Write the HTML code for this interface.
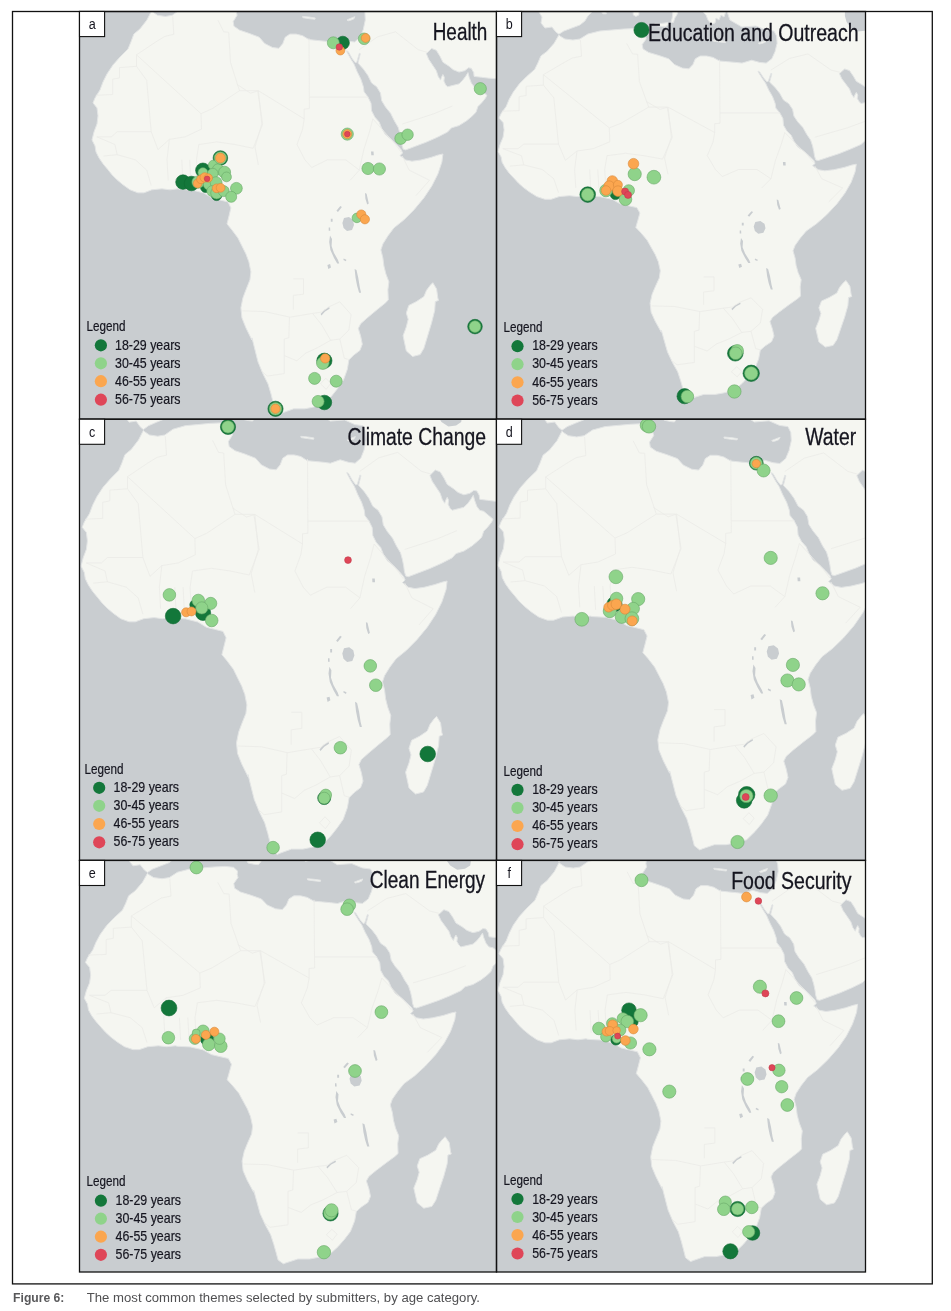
<!DOCTYPE html>
<html><head><meta charset="utf-8"><title>Figure 6</title>
<style>
html,body{margin:0;padding:0;background:#fff;}
body{width:951px;height:1311px;overflow:hidden;font-family:"Liberation Sans",sans-serif;}
svg{display:block}
text{font-family:"Liberation Sans",sans-serif;}
.ttl{font-size:23.5px;fill:#15151f;stroke:#15151f;stroke-width:0.3px;}
.lg{font-size:14.8px;fill:#15151f;stroke:#15151f;stroke-width:0.2px;}
.lab{font-size:14.8px;fill:#15151f;}
</style></head><body>
<svg width="951" height="1311" viewBox="0 0 951 1311">
<rect width="951" height="1311" fill="#fff"/>
<defs>
<clipPath id="cpa"><rect x="79.5" y="11.5" width="417.0" height="407.7"/></clipPath>
<clipPath id="cpb"><rect x="496.5" y="11.5" width="369.0" height="407.7"/></clipPath>
<clipPath id="cpc"><rect x="79.5" y="419.2" width="417.0" height="441.2"/></clipPath>
<clipPath id="cpd"><rect x="496.5" y="419.2" width="369.0" height="441.2"/></clipPath>
<clipPath id="cpe"><rect x="79.5" y="860.4" width="417.0" height="411.6"/></clipPath>
<clipPath id="cpf"><rect x="496.5" y="860.4" width="369.0" height="411.6"/></clipPath>
</defs>
<g clip-path="url(#cpa)">
<rect x="79.5" y="11.5" width="417.0" height="407.7" fill="#c9cdd0"/>
<path d="M146.9 20.0 L139.9 29.0 L133.9 34.0 L130.9 42.0 L128.0 49.0 L120.0 57.0 L113.0 64.9 L107.0 73.9 L103.0 81.9 L100.0 89.9 L95.0 97.9 L93.0 102.9 L97.0 107.9 L98.0 115.9 L97.0 123.9 L94.0 131.9 L92.0 139.9 L95.0 145.9 L96.0 151.9 L99.0 157.9 L103.0 163.8 L108.0 169.8 L112.0 174.8 L117.0 179.8 L123.0 184.8 L130.0 189.8 L137.9 192.8 L143.9 192.8 L151.9 189.8 L161.9 188.8 L169.9 189.8 L177.9 188.8 L180.0 189.4 L192.0 190.0 L204.0 193.0 L212.0 198.0 L220.0 200.0 L228.0 201.9 L230.9 207.9 L229.0 215.9 L227.0 223.9 L231.9 229.9 L237.9 237.9 L241.9 245.9 L245.9 253.9 L248.9 261.9 L250.9 271.9 L249.9 279.9 L245.9 289.9 L242.9 297.9 L240.9 307.8 L241.9 317.8 L245.9 327.8 L251.9 340.0 L252.0 337.9 L255.0 349.9 L258.0 361.9 L263.0 373.9 L268.0 383.9 L271.0 393.9 L273.0 401.9 L275.0 409.9 L280.0 413.9 L282.6 412.8 L293.7 408.8 L304.7 408.8 L312.6 407.3 L323.6 404.1 L331.5 396.2 L337.8 388.3 L343.3 380.4 L347.3 369.4 L348.9 359.9 L353.6 355.2 L359.9 350.5 L362.3 344.2 L360.7 336.3 L358.3 328.4 L360.7 323.7 L367.8 317.4 L377.3 309.5 L385.1 303.2 L388.3 300.0 L387.9 289.8 L388.9 281.8 L385.9 273.9 L383.9 265.9 L382.9 257.9 L380.9 249.9 L382.9 243.9 L387.9 235.9 L393.9 227.9 L403.9 219.9 L413.9 209.9 L423.9 197.9 L431.9 185.9 L437.9 174.0 L441.9 162.0 L442.9 154.0 L438.5 154.9 L430.9 157.4 L420.9 160.0 L412.0 161.2 L405.7 160.0 L400.0 155.6 L402.6 153.0 L401.3 149.9 L396.9 144.8 L391.8 139.8 L385.5 134.7 L381.7 128.4 L379.2 122.1 L374.8 117.1 L371.6 110.8 L371.0 103.2 L367.9 96.9 L364.1 91.8 L363.4 86.8 L360.9 79.2 L357.1 71.6 L354.0 64.1 L350.8 59.0 L347.0 52.1 L346.7 50.8 L348.3 51.7 L352.1 58.4 L355.2 62.6 L356.8 62.2 L359.3 53.3 L360.3 53.7 L358.0 63.1 L363.4 69.1 L367.9 75.4 L371.6 83.0 L376.7 86.8 L380.5 93.1 L381.7 100.7 L385.5 107.0 L390.6 113.3 L394.4 120.9 L398.1 127.2 L400.0 133.5 L401.3 139.8 L401.9 144.8 L403.2 149.2 L405.7 149.9 L415.8 146.1 L425.9 142.3 L437.3 137.3 L447.6 132.0 L451.4 127.9 L459.0 125.6 L466.6 120.8 L472.2 116.1 L476.0 112.3 L477.9 106.6 L481.7 102.8 L485.5 98.1 L486.9 95.3 L483.6 92.4 L477.9 87.7 L474.1 86.8 L471.3 83.0 L469.2 77.3 L468.0 72.6 L465.6 76.4 L462.8 80.1 L459.0 83.9 L453.3 85.3 L447.6 86.8 L445.7 84.9 L443.9 81.1 L444.3 77.3 L442.9 74.5 L441.5 77.3 L440.5 80.1 L438.2 76.4 L436.3 70.7 L432.5 65.0 L428.7 59.3 L426.3 53.6 L431.6 48.4 L436.3 50.3 L440.1 56.5 L442.9 62.2 L448.6 65.9 L453.3 69.7 L459.0 72.1 L464.7 70.7 L468.5 67.8 L471.3 68.3 L473.7 72.6 L474.1 76.4 L481.7 77.3 L489.3 78.2 L510.1 79.7 L520.7 72.8 L520.7 -60.0 L316.2 -60.0 L316.2 -15.7 L319.1 -5.8 L330.9 2.0 L344.6 0.9 L354.4 5.3 L362.2 6.4 L364.9 12.0 L365.3 19.9 L363.3 29.4 L360.1 37.2 L354.6 42.0 L348.3 41.2 L340.4 38.8 L330.9 42.0 L324.6 41.2 L316.8 40.4 L308.9 39.6 L302.6 35.7 L296.2 34.1 L289.9 34.1 L285.2 37.2 L282.8 43.5 L278.9 48.3 L272.6 47.5 L264.7 43.5 L259.2 37.2 L248.9 33.3 L239.5 30.1 L233.9 26.2 L233.2 21.5 L237.1 15.2 L236.3 12.0 L236.8 8.6 L232.9 4.6 L225.0 3.7 L215.3 4.2 L203.5 5.3 L191.8 6.4 L180.0 9.7 L172.2 15.3 L165.4 16.4 L157.5 15.3 L152.6 11.9 L151.7 10.8Z M132.1 -37.9 L132.1 -14.6 L135.0 -9.1 L134.0 -2.4 L138.0 3.1 L144.8 2.0 L148.7 7.5 L151.7 9.9 L156.5 6.4 L164.4 3.1 L172.2 -0.2 L177.1 -4.7 L180.0 -10.2 L183.9 -14.6 L183.9 -37.9Z M193.7 -14.6 L197.6 -14.6 L198.0 -12.6 L194.7 -12.6Z M224.1 -20.2 L229.9 -20.2 L229.9 -11.3 L227.0 -9.8 L224.4 -11.3Z M245.6 -2.0 L252.4 -2.0 L258.3 -2.9 L258.7 -1.1 L256.3 2.0 L252.4 1.5 L246.6 0.2Z M260.3 -24.6 L267.1 -24.6 L268.5 -15.7 L267.1 -11.3 L265.2 -8.0 L263.8 -2.9 L261.4 -3.3 L262.6 -8.0 L263.2 -13.5Z M289.8 -24.6 L316.2 -24.6 L315.2 -15.7 L313.3 -9.1 L310.3 -11.3 L308.4 -5.8 L305.4 -8.0 L304.5 -2.4 L300.6 -1.3 L297.6 -5.8 L295.7 -11.3 L291.7 -15.7Z M302.6 16.4 L308.9 17.0 L315.2 18.0 L314.9 19.3 L308.9 18.6 L302.9 17.7Z M347.0 19.9 L350.7 18.3 L354.9 16.7 L353.8 18.9 L350.7 20.2 L348.0 20.8Z M432.8 282.7 L436.6 289.0 L437.8 297.9 L438.5 300.4 L435.3 301.6 L434.7 310.5 L431.5 323.1 L427.7 335.7 L423.9 348.3 L420.2 354.6 L412.6 356.5 L406.3 350.9 L404.4 342.0 L403.1 335.7 L406.3 326.9 L408.2 319.3 L406.3 313.0 L408.8 305.4 L416.4 301.6 L423.9 296.6 L426.5 290.3 L430.3 285.2Z" fill="#f5f6f1" stroke="#e3e5e5" stroke-width="1" stroke-linejoin="round"/>
<path d="M344.0 217.9 L349.0 216.9 L353.0 219.9 L354.0 224.9 L352.0 229.9 L347.0 230.9 L343.6 227.9 L342.4 222.9Z M330.0 235.5 L332.0 238.9 L331.6 245.9 L334.0 252.9 L338.0 259.9 L339.2 263.5 L337.2 263.5 L334.0 257.9 L330.4 249.9 L329.2 241.9Z M354.6 268.9 L356.5 269.9 L358.3 277.9 L359.9 287.8 L361.1 292.8 L359.1 292.8 L357.1 285.8 L355.6 277.9Z M431.7 -43.7 L431.7 -10.1 L433.4 -3.6 L437.5 2.9 L444.1 7.1 L451.5 6.2 L456.4 2.9 L457.7 -6.4 L457.2 -43.7Z M336.4 210.8 L340.3 206.0 L341.9 207.0 L338.0 212.1Z M365.0 193.1 L366.6 193.7 L368.8 203.4 L367.2 204.4 L365.4 198.8Z M330.8 218.8 L332.6 218.8 L332.6 221.8 L330.8 221.8Z M328.7 227.5 L330.1 227.5 L330.3 230.8 L328.7 230.8Z M327.4 264.9 L330.1 264.1 L331.0 267.4 L328.3 269.0Z M343.7 258.5 L346.4 259.7 L345.9 261.3 L343.4 260.0Z M320.6 314.1 L324.4 309.7 L329.2 307.1 L329.6 308.7 L325.1 311.5 L321.5 315.6Z M371.0 151.6 L373.5 151.6 L373.8 155.2 L371.3 155.2Z" fill="#c9cdd0"/>
<path d="M172.7 16.4 L173.8 34.3 L164.8 36.4 L155.7 42.0 L136.5 54.8 L136.5 66.3 M136.5 66.3 L119.5 67.6 L119.5 77.9 L112.7 79.2 L112.7 94.5 L95.7 95.3 M136.5 54.8 L201.0 113.7 L212.4 108.6 L239.5 90.7 M218.0 20.2 L223.7 31.8 L228.7 32.3 L230.5 62.5 L239.5 90.7 L257.7 90.7 M136.5 66.3 L146.7 80.4 L151.2 131.7 L117.2 131.7 L111.5 136.8 L96.8 136.8 M201.0 113.7 L201.5 129.1 L185.2 136.8 L169.3 139.4 L158.0 149.6 L151.2 131.7 M257.7 90.7 L262.7 124.0 L253.1 148.3 M198.8 144.5 L216.9 141.9 L235.0 144.5 L253.1 148.3 M169.3 139.4 L167.0 159.8 L168.2 180.3 M181.8 159.8 L182.9 182.9 M189.7 159.8 L190.8 180.3 M198.8 144.5 L196.5 159.8 L197.6 180.3 M96.8 136.8 L114.9 144.5 L117.2 154.7 L103.6 156.0 M117.2 154.7 L135.3 159.8 L146.7 170.1 L151.2 185.5 M309.0 38.2 L309.4 108.6 M309.4 97.1 L368.3 97.1 M309.4 108.6 L304.2 109.1 L304.2 118.9 L258.4 90.7 L250.5 93.2 L236.9 84.3 M304.2 118.9 L302.6 129.1 L297.0 144.5 L304.9 159.8 L311.7 167.5 M372.9 118.9 L369.5 131.7 L363.8 149.6 L359.3 170.1 L350.2 180.3 M311.7 167.5 L327.5 159.8 L345.7 159.8 L359.3 170.1 M258.4 90.7 L261.8 124.0 L255.0 147.0 L258.4 165.0 M402.3 156.0 L409.1 170.1 L429.5 180.3 L415.9 195.7 M402.3 124.0 L418.2 118.9 L434.0 113.7 L452.4 106.0 M359.3 49.7 L377.4 36.9 L395.5 31.8 L418.2 49.7 L427.2 52.3 M372.9 118.9 L381.9 129.1 L395.5 144.5 L401.2 152.2 M242.4 310.8 L265.0 311.6 L290.0 317.2 L312.6 313.4 M289.5 317.2 L288.8 337.7 L284.3 339.0 L284.3 373.6 L267.3 376.1 L261.6 371.0 M284.3 355.6 L296.8 360.8 L305.8 353.1 L317.1 347.9 L330.7 340.3 L339.8 339.0 M312.6 313.4 L321.7 324.9 L330.7 340.3 M339.8 301.8 L351.1 314.6 L348.9 330.0 L339.8 339.0 L344.3 358.2 L348.9 359.5 M312.6 313.4 L321.7 312.1 L328.5 307.0 L339.8 301.8 M320.5 383.8 L325.8 378.2 L330.7 383.3 L326.2 389.4 L320.5 383.8 M293.4 278.8 L303.5 278.8 L303.5 294.2 L293.4 295.4 L293.4 309.5" fill="none" stroke="#ebebe7" stroke-width="0.8"/>
<circle cx="183.0" cy="182.1" r="7.3" fill="#13773a" stroke="#0f6a32" stroke-width="0.6"/>
<circle cx="191.5" cy="183.5" r="7.3" fill="#13773a" stroke="#0f6a32" stroke-width="0.6"/>
<circle cx="202.9" cy="170.3" r="7.3" fill="#13773a" stroke="#0f6a32" stroke-width="0.6"/>
<circle cx="220.4" cy="158.0" r="7.3" fill="#13773a" stroke="#0f6a32" stroke-width="0.6"/>
<circle cx="216.6" cy="195.4" r="5.2" fill="#13773a" stroke="#0f6a32" stroke-width="0.6"/>
<circle cx="205.7" cy="187.3" r="5.2" fill="#13773a" stroke="#0f6a32" stroke-width="0.6"/>
<circle cx="342.8" cy="42.8" r="6.6" fill="#13773a" stroke="#0f6a32" stroke-width="0.6"/>
<circle cx="475" cy="326.6" r="7.3" fill="#13773a" stroke="#0f6a32" stroke-width="0.6"/>
<circle cx="324.4" cy="360.7" r="7.6" fill="#13773a" stroke="#0f6a32" stroke-width="0.6"/>
<circle cx="324.4" cy="402.5" r="7.3" fill="#13773a" stroke="#0f6a32" stroke-width="0.6"/>
<circle cx="275.5" cy="408.8" r="7.6" fill="#13773a" stroke="#0f6a32" stroke-width="0.6"/>
<circle cx="213.3" cy="165.1" r="4.9" fill="#8fd38a" stroke="#68a868" stroke-width="0.6"/>
<circle cx="218.0" cy="169.3" r="5.5" fill="#8fd38a" stroke="#68a868" stroke-width="0.6"/>
<circle cx="224.6" cy="172.2" r="6.0" fill="#8fd38a" stroke="#68a868" stroke-width="0.6"/>
<circle cx="226.5" cy="176.9" r="4.9" fill="#8fd38a" stroke="#68a868" stroke-width="0.6"/>
<circle cx="202.9" cy="172.6" r="4.9" fill="#8fd38a" stroke="#68a868" stroke-width="0.6"/>
<circle cx="212.8" cy="173.6" r="5.3" fill="#8fd38a" stroke="#68a868" stroke-width="0.6"/>
<circle cx="198.1" cy="182.1" r="6.2" fill="#8fd38a" stroke="#68a868" stroke-width="0.6"/>
<circle cx="208.5" cy="184.5" r="5.2" fill="#8fd38a" stroke="#68a868" stroke-width="0.6"/>
<circle cx="216.1" cy="182.6" r="5.9" fill="#8fd38a" stroke="#68a868" stroke-width="0.6"/>
<circle cx="212.3" cy="191.1" r="5.5" fill="#8fd38a" stroke="#68a868" stroke-width="0.6"/>
<circle cx="216.6" cy="193.0" r="5.9" fill="#8fd38a" stroke="#68a868" stroke-width="0.6"/>
<circle cx="223.7" cy="191.1" r="5.5" fill="#8fd38a" stroke="#68a868" stroke-width="0.6"/>
<circle cx="236.4" cy="188.3" r="5.9" fill="#8fd38a" stroke="#68a868" stroke-width="0.6"/>
<circle cx="231.2" cy="196.8" r="5.5" fill="#8fd38a" stroke="#68a868" stroke-width="0.6"/>
<circle cx="220.4" cy="158.0" r="6.2" fill="#8fd38a" stroke="#68a868" stroke-width="0.6"/>
<circle cx="333.3" cy="42.8" r="6.0" fill="#8fd38a" stroke="#68a868" stroke-width="0.6"/>
<circle cx="364.1" cy="38.8" r="5.8" fill="#8fd38a" stroke="#68a868" stroke-width="0.6"/>
<circle cx="347.3" cy="134.1" r="6.1" fill="#8fd38a" stroke="#68a868" stroke-width="0.6"/>
<circle cx="400.7" cy="138.5" r="5.9" fill="#8fd38a" stroke="#68a868" stroke-width="0.6"/>
<circle cx="407.6" cy="134.7" r="5.7" fill="#8fd38a" stroke="#68a868" stroke-width="0.6"/>
<circle cx="368" cy="168.5" r="6.1" fill="#8fd38a" stroke="#68a868" stroke-width="0.6"/>
<circle cx="379.4" cy="169" r="6.1" fill="#8fd38a" stroke="#68a868" stroke-width="0.6"/>
<circle cx="480.3" cy="88.7" r="6.1" fill="#8fd38a" stroke="#68a868" stroke-width="0.6"/>
<circle cx="356.9" cy="217.9" r="4.8" fill="#8fd38a" stroke="#68a868" stroke-width="0.6"/>
<circle cx="475" cy="326.6" r="5.8" fill="#8fd38a" stroke="#68a868" stroke-width="0.6"/>
<circle cx="322.8" cy="363.1" r="6.3" fill="#8fd38a" stroke="#68a868" stroke-width="0.6"/>
<circle cx="314.6" cy="378.4" r="6.0" fill="#8fd38a" stroke="#68a868" stroke-width="0.6"/>
<circle cx="336.2" cy="381.2" r="6.0" fill="#8fd38a" stroke="#68a868" stroke-width="0.6"/>
<circle cx="318.1" cy="401.4" r="6.0" fill="#8fd38a" stroke="#68a868" stroke-width="0.6"/>
<circle cx="275.5" cy="408.8" r="6.3" fill="#8fd38a" stroke="#68a868" stroke-width="0.6"/>
<circle cx="220.4" cy="158.0" r="4.9" fill="#fba64f" stroke="#d98a3c" stroke-width="0.6"/>
<circle cx="197.6" cy="183.5" r="4.4" fill="#fba64f" stroke="#d98a3c" stroke-width="0.6"/>
<circle cx="201.0" cy="179.3" r="4.4" fill="#fba64f" stroke="#d98a3c" stroke-width="0.6"/>
<circle cx="204.7" cy="177.4" r="4.7" fill="#fba64f" stroke="#d98a3c" stroke-width="0.6"/>
<circle cx="208.3" cy="178.0" r="4.2" fill="#fba64f" stroke="#d98a3c" stroke-width="0.6"/>
<circle cx="216.6" cy="188.3" r="4.4" fill="#fba64f" stroke="#d98a3c" stroke-width="0.6"/>
<circle cx="220.6" cy="187.8" r="4.4" fill="#fba64f" stroke="#d98a3c" stroke-width="0.6"/>
<circle cx="340.4" cy="50.6" r="4.4" fill="#fba64f" stroke="#d98a3c" stroke-width="0.6"/>
<circle cx="365.6" cy="38.0" r="4.4" fill="#fba64f" stroke="#d98a3c" stroke-width="0.6"/>
<circle cx="347.3" cy="134.1" r="4.5" fill="#fba64f" stroke="#d98a3c" stroke-width="0.6"/>
<circle cx="361.3" cy="214.5" r="4.6" fill="#fba64f" stroke="#d98a3c" stroke-width="0.6"/>
<circle cx="364.9" cy="219.3" r="4.6" fill="#fba64f" stroke="#d98a3c" stroke-width="0.6"/>
<circle cx="325.2" cy="358.4" r="4.7" fill="#fba64f" stroke="#d98a3c" stroke-width="0.6"/>
<circle cx="275.5" cy="408.8" r="4.7" fill="#fba64f" stroke="#d98a3c" stroke-width="0.6"/>
<circle cx="207.1" cy="178.8" r="2.8" fill="#df4658" stroke="#c23a4a" stroke-width="0.6"/>
<circle cx="339.3" cy="47.0" r="3.2" fill="#df4658" stroke="#c23a4a" stroke-width="0.6"/>
<circle cx="347.3" cy="134.1" r="2.8" fill="#df4658" stroke="#c23a4a" stroke-width="0.6"/>
</g>
<g clip-path="url(#cpb)">
<rect x="496.5" y="11.5" width="369.0" height="407.7" fill="#c9cdd0"/>
<path d="M554.1 43.3 L547.0 51.4 L540.9 55.9 L537.8 63.1 L534.7 69.4 L526.6 76.6 L519.4 83.8 L513.3 92.0 L509.2 99.2 L506.2 106.4 L501.1 113.6 L499.0 118.1 L503.1 122.6 L504.1 129.9 L503.1 137.1 L500.1 144.3 L498.0 151.5 L501.1 156.9 L502.1 162.3 L505.2 167.7 L509.2 173.2 L514.3 178.6 L518.4 183.1 L523.5 187.6 L529.6 192.1 L536.8 196.6 L544.9 199.3 L551.1 199.3 L559.2 196.6 L569.4 195.7 L577.6 196.6 L585.7 195.7 L587.9 196.2 L600.1 196.7 L612.4 199.4 L620.5 204.0 L628.7 205.8 L636.8 207.6 L639.9 213.0 L637.9 220.2 L635.8 227.4 L640.9 232.8 L647.0 240.0 L651.1 247.3 L655.2 254.5 L658.3 261.7 L660.3 270.7 L659.3 277.9 L655.2 286.9 L652.1 294.2 L650.1 303.2 L651.1 312.2 L655.2 321.2 L661.3 332.2 L661.4 330.4 L664.4 341.2 L667.5 352.0 L672.6 362.8 L677.7 371.8 L680.7 380.9 L682.8 388.1 L684.8 395.3 L689.9 398.9 L692.7 397.9 L703.9 394.4 L715.2 394.4 L723.3 393.0 L734.5 390.1 L742.6 383.0 L749.0 375.9 L754.7 368.7 L758.7 358.8 L760.3 350.2 L765.1 346.0 L771.6 341.7 L774.0 336.0 L772.4 328.9 L770.0 321.7 L772.4 317.5 L779.6 311.8 L789.3 304.6 L797.3 298.9 L800.6 296.1 L800.2 286.9 L801.2 279.7 L798.1 272.5 L796.1 265.3 L795.1 258.1 L793.0 250.8 L795.1 245.4 L800.2 238.2 L806.3 231.0 L816.5 223.8 L826.7 214.8 L836.9 203.9 L845.0 193.1 L851.2 182.3 L855.2 171.5 L856.3 164.2 L851.8 165.1 L844.1 167.4 L833.8 169.7 L824.8 170.8 L818.3 169.7 L812.5 165.7 L815.1 163.4 L813.8 160.5 L809.3 156.0 L804.2 151.4 L797.7 146.9 L793.9 141.2 L791.3 135.5 L786.8 130.9 L783.5 125.2 L782.9 118.4 L779.7 112.7 L775.8 108.1 L775.2 103.6 L772.6 96.7 L768.7 89.9 L765.5 83.1 L762.3 78.5 L758.4 72.2 L758.0 71.1 L759.7 71.9 L763.6 77.9 L766.8 81.7 L768.3 81.3 L770.9 73.4 L771.9 73.7 L769.6 82.1 L775.2 87.6 L779.7 93.3 L783.5 100.1 L788.7 103.6 L792.6 109.3 L793.9 116.1 L797.7 121.8 L802.9 127.5 L806.7 134.3 L810.6 140.0 L812.5 145.7 L813.8 151.4 L814.5 156.0 L815.8 160.0 L818.3 160.5 L828.6 157.1 L838.9 153.7 L850.5 149.1 L861.1 144.4 L865.0 140.7 L872.7 138.6 L880.5 134.3 L886.3 130.0 L890.1 126.6 L892.1 121.5 L895.9 118.1 L899.8 113.8 L901.2 111.2 L897.9 108.7 L892.1 104.4 L888.2 103.5 L885.3 100.1 L883.2 95.0 L881.9 90.7 L879.5 94.1 L876.6 97.6 L872.7 101.0 L866.9 102.3 L861.1 103.5 L859.2 101.8 L857.3 98.4 L857.8 95.0 L856.3 92.4 L854.9 95.0 L853.9 97.6 L851.5 94.1 L849.5 89.0 L845.7 83.9 L841.8 78.8 L839.4 73.6 L844.7 68.9 L849.5 70.6 L853.4 76.2 L856.3 81.3 L862.1 84.7 L866.9 88.2 L872.7 90.3 L878.5 89.0 L882.4 86.5 L885.3 86.9 L887.7 90.7 L888.2 94.1 L895.9 95.0 L903.7 95.9 L924.9 97.1 L935.7 90.9 L935.7 -29.0 L726.9 -29.0 L726.9 11.0 L729.9 20.0 L741.9 27.0 L755.9 26.0 L765.9 30.0 L773.9 31.0 L776.6 36.0 L777.1 43.2 L775.0 51.7 L771.8 58.8 L766.2 63.1 L759.7 62.4 L751.7 60.2 L742.0 63.1 L735.6 62.4 L727.5 61.7 L719.5 61.0 L713.0 57.4 L706.6 56.0 L700.1 56.0 L695.3 58.8 L692.9 64.5 L688.9 68.8 L682.4 68.1 L674.4 64.5 L668.7 58.8 L658.3 55.3 L648.6 52.4 L643.0 48.9 L642.2 44.6 L646.2 38.9 L645.4 36.0 L645.9 33.0 L641.9 29.4 L633.9 28.6 L623.9 29.0 L611.9 30.0 L599.9 31.0 L587.9 34.0 L579.9 39.0 L572.9 40.0 L564.9 39.0 L559.9 36.0 L558.9 35.0Z M539.0 -9.0 L539.0 12.0 L542.0 17.0 L541.0 23.0 L545.0 28.0 L551.9 27.0 L555.9 32.0 L558.9 34.2 L563.9 31.0 L571.9 28.0 L579.9 25.0 L584.9 21.0 L587.9 16.0 L591.9 12.0 L591.9 -9.0Z M601.9 12.0 L605.9 12.0 L606.3 13.8 L602.9 13.8Z M632.9 7.0 L638.9 7.0 L638.9 15.0 L635.9 16.4 L633.3 15.0Z M654.8 23.4 L661.8 23.4 L667.8 22.6 L668.2 24.2 L665.8 27.0 L661.8 26.6 L655.8 25.4Z M669.8 3.0 L676.8 3.0 L678.2 11.0 L676.8 15.0 L674.8 18.0 L673.4 22.6 L671.0 22.2 L672.2 18.0 L672.8 13.0Z M700.0 3.0 L726.9 3.0 L726.0 11.0 L724.0 17.0 L721.0 15.0 L719.0 20.0 L716.0 18.0 L715.0 23.0 L711.0 24.0 L708.0 20.0 L706.0 15.0 L702.0 11.0Z M713.0 40.0 L719.5 40.6 L725.9 41.4 L725.6 42.6 L719.5 42.0 L713.3 41.2Z M758.4 43.2 L762.1 41.7 L766.5 40.3 L765.3 42.3 L762.1 43.4 L759.4 44.0Z M846.0 280.5 L849.9 286.2 L851.1 294.2 L851.8 296.5 L848.5 297.5 L847.9 305.6 L844.7 317.0 L840.8 328.3 L836.9 339.7 L833.1 345.4 L825.4 347.1 L818.9 342.1 L817.0 334.0 L815.7 328.3 L818.9 320.4 L820.9 313.5 L818.9 307.8 L821.5 301.0 L829.2 297.5 L836.9 293.0 L839.6 287.3 L843.4 282.7Z" fill="#f5f6f1" stroke="#e3e5e5" stroke-width="1" stroke-linejoin="round"/>
<path d="M755.3 222.0 L760.4 221.1 L764.5 223.8 L765.5 228.3 L763.4 232.8 L758.3 233.7 L754.9 231.0 L753.7 226.5Z M741.0 237.9 L743.0 240.9 L742.6 247.2 L745.1 253.5 L749.2 259.9 L750.4 263.1 L748.3 263.1 L745.1 258.1 L741.4 250.8 L740.2 243.6Z M766.1 268.0 L768.1 268.9 L770.0 276.1 L771.6 285.1 L772.8 289.6 L770.8 289.6 L768.7 283.3 L767.1 276.1Z M844.9 -14.2 L844.9 16.0 L846.6 21.9 L850.8 27.8 L857.5 31.6 L865.1 30.8 L870.1 27.8 L871.4 19.4 L870.9 -14.2Z M747.6 215.6 L751.5 211.2 L753.1 212.1 L749.2 216.7Z M776.7 199.6 L778.3 200.1 L780.7 208.9 L779.0 209.8 L777.2 204.7Z M741.8 222.7 L743.7 222.7 L743.7 225.5 L741.8 225.5Z M739.7 230.6 L741.1 230.6 L741.3 233.6 L739.7 233.6Z M738.3 264.4 L741.1 263.7 L742.0 266.7 L739.3 268.1Z M755.0 258.6 L757.8 259.8 L757.3 261.1 L754.8 260.0Z M731.4 308.8 L735.3 304.9 L740.2 302.5 L740.6 303.9 L736.0 306.5 L732.3 310.2Z M782.9 162.1 L785.5 162.1 L785.7 165.4 L783.2 165.4Z" fill="#c9cdd0"/>
<path d="M580.4 40.0 L581.6 56.2 L572.3 58.0 L563.1 63.1 L543.4 74.7 L543.4 85.1 M543.4 85.1 L526.1 86.3 L526.1 95.5 L519.1 96.7 L519.1 110.6 L501.8 111.2 M543.4 74.7 L609.3 127.9 L620.9 123.3 L648.7 107.1 M626.7 43.5 L632.5 53.9 L637.6 54.3 L639.4 81.6 L648.7 107.1 L667.2 107.1 M543.4 85.1 L553.8 97.8 L558.5 144.1 L523.8 144.1 L518.0 148.7 L502.9 148.7 M609.3 127.9 L609.8 141.8 L593.2 148.7 L577.0 151.0 L565.4 160.3 L558.5 144.1 M667.2 107.1 L672.3 137.2 L662.6 159.1 M607.0 155.7 L625.5 153.3 L644.0 155.7 L662.6 159.1 M577.0 151.0 L574.6 169.5 L575.8 188.0 M589.7 169.5 L590.8 190.4 M597.8 169.5 L598.9 188.0 M607.0 155.7 L604.7 169.5 L605.9 188.0 M502.9 148.7 L521.4 155.7 L523.8 164.9 L509.9 166.1 M523.8 164.9 L542.3 169.5 L553.8 178.8 L558.5 192.7 M719.6 59.7 L720.0 123.3 M720.0 112.9 L780.2 112.9 M720.0 123.3 L714.7 123.7 L714.7 132.5 L668.0 107.1 L659.9 109.4 L646.0 101.3 M714.7 132.5 L713.1 141.8 L707.3 155.7 L715.4 169.5 L722.3 176.5 M784.8 132.5 L781.3 144.1 L775.5 160.3 L770.9 178.8 L761.7 188.0 M722.3 176.5 L738.5 169.5 L757.0 169.5 L770.9 178.8 M668.0 107.1 L671.4 137.2 L664.5 158.0 L668.0 174.2 M814.9 166.1 L821.8 178.8 L842.6 188.0 L828.7 201.9 M814.9 137.2 L831.1 132.5 L847.2 127.9 L866.0 121.0 M770.9 70.1 L789.4 58.5 L807.9 53.9 L831.1 70.1 L840.3 72.4 M784.8 132.5 L794.0 141.8 L807.9 155.7 L813.7 162.6 M651.6 305.9 L674.7 306.5 L700.1 311.6 L723.3 308.2 M699.7 311.6 L699.0 330.1 L694.4 331.3 L694.4 362.5 L677.0 364.8 L671.2 360.2 M694.4 346.3 L707.1 351.0 L716.3 344.0 L727.9 339.4 L741.8 332.5 L751.0 331.3 M723.3 308.2 L732.5 318.6 L741.8 332.5 M751.0 297.8 L762.6 309.3 L760.3 323.2 L751.0 331.3 L755.7 348.6 L760.3 349.8 M723.3 308.2 L732.5 307.0 L739.5 302.4 L751.0 297.8 M731.4 371.8 L736.7 366.7 L741.8 371.3 L737.2 376.9 L731.4 371.8 M703.6 276.9 L714.0 276.9 L714.0 290.8 L703.6 292.0 L703.6 304.7" fill="none" stroke="#ebebe7" stroke-width="0.8"/>
<circle cx="587.7" cy="194.6" r="7.8" fill="#13773a" stroke="#0f6a32" stroke-width="0.6"/>
<circle cx="615.4" cy="194.3" r="5.3" fill="#13773a" stroke="#0f6a32" stroke-width="0.6"/>
<circle cx="641.5" cy="30" r="7.6" fill="#13773a" stroke="#0f6a32" stroke-width="0.6"/>
<circle cx="735.3" cy="353.3" r="7.8" fill="#13773a" stroke="#0f6a32" stroke-width="0.6"/>
<circle cx="751.2" cy="373.3" r="8.2" fill="#13773a" stroke="#0f6a32" stroke-width="0.6"/>
<circle cx="684.6" cy="396.2" r="7.6" fill="#13773a" stroke="#0f6a32" stroke-width="0.6"/>
<circle cx="587.7" cy="194.6" r="6.3" fill="#8fd38a" stroke="#68a868" stroke-width="0.6"/>
<circle cx="634.7" cy="174.1" r="6.6" fill="#8fd38a" stroke="#68a868" stroke-width="0.6"/>
<circle cx="653.9" cy="177.2" r="6.9" fill="#8fd38a" stroke="#68a868" stroke-width="0.6"/>
<circle cx="606.0" cy="190.5" r="6.3" fill="#8fd38a" stroke="#68a868" stroke-width="0.6"/>
<circle cx="628.7" cy="190.5" r="5.8" fill="#8fd38a" stroke="#68a868" stroke-width="0.6"/>
<circle cx="625.5" cy="199.3" r="6.3" fill="#8fd38a" stroke="#68a868" stroke-width="0.6"/>
<circle cx="737.2" cy="350.8" r="6.3" fill="#8fd38a" stroke="#68a868" stroke-width="0.6"/>
<circle cx="735.7" cy="353.3" r="6.3" fill="#8fd38a" stroke="#68a868" stroke-width="0.6"/>
<circle cx="751.2" cy="373.3" r="6.6" fill="#8fd38a" stroke="#68a868" stroke-width="0.6"/>
<circle cx="734.4" cy="391.5" r="6.7" fill="#8fd38a" stroke="#68a868" stroke-width="0.6"/>
<circle cx="687.4" cy="396.5" r="6.3" fill="#8fd38a" stroke="#68a868" stroke-width="0.6"/>
<circle cx="633.5" cy="163.7" r="5.3" fill="#fba64f" stroke="#d98a3c" stroke-width="0.6"/>
<circle cx="612.3" cy="181.0" r="5.3" fill="#fba64f" stroke="#d98a3c" stroke-width="0.6"/>
<circle cx="609.1" cy="186.1" r="5.3" fill="#fba64f" stroke="#d98a3c" stroke-width="0.6"/>
<circle cx="617.9" cy="184.8" r="4.5" fill="#fba64f" stroke="#d98a3c" stroke-width="0.6"/>
<circle cx="606.0" cy="190.5" r="4.8" fill="#fba64f" stroke="#d98a3c" stroke-width="0.6"/>
<circle cx="617.9" cy="191.1" r="5.3" fill="#fba64f" stroke="#d98a3c" stroke-width="0.6"/>
<circle cx="625.1" cy="191.5" r="3.5" fill="#df4658" stroke="#c23a4a" stroke-width="0.6"/>
<circle cx="628.0" cy="194.9" r="3.5" fill="#df4658" stroke="#c23a4a" stroke-width="0.6"/>
</g>
<g clip-path="url(#cpc)">
<rect x="79.5" y="419.2" width="417.0" height="441.2" fill="#c9cdd0"/>
<path d="M138.5 440.0 L131.2 449.5 L124.9 454.7 L121.8 463.2 L118.7 470.5 L110.3 478.9 L103.0 487.3 L96.8 496.8 L92.6 505.2 L89.5 513.6 L84.3 522.0 L82.2 527.3 L86.4 532.5 L87.4 540.9 L86.4 549.3 L83.2 557.7 L81.1 566.1 L84.3 572.5 L85.3 578.8 L88.4 585.1 L92.6 591.4 L97.8 597.7 L102.0 602.9 L107.2 608.2 L113.4 613.4 L120.7 618.7 L129.1 621.8 L135.3 621.8 L143.7 618.7 L154.1 617.6 L162.4 618.7 L170.8 617.6 L172.9 618.2 L185.4 618.8 L197.9 622.0 L206.3 627.2 L214.6 629.3 L223.0 631.4 L226.1 637.8 L224.0 646.2 L221.9 654.6 L227.1 660.9 L233.4 669.3 L237.5 677.7 L241.7 686.1 L244.8 694.5 L246.9 705.0 L245.9 713.4 L241.7 723.9 L238.6 732.3 L236.5 742.8 L237.5 753.4 L241.7 763.9 L248.0 776.7 L248.0 774.5 L251.1 787.1 L254.3 799.7 L259.5 812.3 L264.7 822.8 L267.8 833.4 L269.9 841.8 L272.0 850.2 L277.2 854.4 L280.0 853.2 L291.5 849.1 L303.0 849.1 L311.2 847.4 L322.7 844.1 L331.0 835.8 L337.5 827.5 L343.3 819.2 L347.4 807.6 L349.1 797.7 L354.0 792.7 L360.6 787.7 L363.0 781.1 L361.4 772.8 L358.9 764.5 L361.4 759.5 L368.8 752.9 L378.7 744.6 L386.9 737.9 L390.2 734.6 L389.8 723.9 L390.8 715.5 L387.7 707.1 L385.6 698.7 L384.6 690.3 L382.5 681.9 L384.6 675.6 L389.8 667.2 L396.1 658.8 L406.5 650.3 L416.9 639.8 L427.3 627.2 L435.6 614.6 L441.9 602.0 L446.1 589.4 L447.1 581.0 L442.6 582.0 L434.7 584.6 L424.1 587.3 L414.9 588.6 L408.4 587.3 L402.4 582.6 L405.1 580.0 L403.7 576.7 L399.1 571.4 L393.9 566.0 L387.3 560.7 L383.3 554.1 L380.7 547.5 L376.1 542.2 L372.8 535.5 L372.2 527.6 L368.9 520.9 L364.9 515.6 L364.3 510.3 L361.6 502.3 L357.7 494.4 L354.4 486.4 L351.1 481.1 L347.2 473.8 L346.8 472.5 L348.5 473.4 L352.4 480.4 L355.7 484.8 L357.3 484.4 L359.9 475.1 L361.0 475.5 L358.6 485.3 L364.3 491.7 L368.9 498.3 L372.8 506.3 L378.1 510.3 L382.0 516.9 L383.3 524.9 L387.3 531.5 L392.6 538.2 L396.5 546.1 L400.5 552.8 L402.4 559.4 L403.7 566.0 L404.4 571.4 L405.7 576.0 L408.4 576.7 L418.9 572.7 L429.4 568.7 L441.3 563.4 L452.1 557.9 L456.0 553.6 L463.9 551.1 L471.8 546.1 L477.8 541.1 L481.7 537.2 L483.7 531.2 L487.6 527.2 L491.6 522.2 L493.0 519.2 L489.6 516.2 L483.7 511.3 L479.7 510.3 L476.8 506.3 L474.6 500.3 L473.3 495.3 L470.8 499.3 L467.9 503.3 L463.9 507.3 L458.0 508.8 L452.1 510.3 L450.1 508.3 L448.1 504.3 L448.6 500.3 L447.2 497.3 L445.7 500.3 L444.7 503.3 L442.2 499.3 L440.2 493.3 L436.3 487.4 L432.3 481.4 L429.9 475.4 L435.3 470.0 L440.2 471.9 L444.2 478.4 L447.2 484.4 L453.1 488.4 L458.0 492.4 L463.9 494.8 L469.9 493.3 L473.8 490.4 L476.8 490.9 L479.2 495.3 L479.7 499.3 L487.6 500.3 L495.5 501.3 L517.2 502.8 L528.3 495.6 L528.3 355.9 L315.0 355.9 L315.0 402.5 L318.1 412.9 L330.3 421.1 L344.6 419.9 L354.8 424.6 L363.0 425.7 L365.7 431.6 L366.2 439.9 L364.1 449.9 L360.8 458.2 L355.1 463.2 L348.5 462.3 L340.2 459.8 L330.4 463.2 L323.8 462.3 L315.6 461.5 L307.3 460.7 L300.8 456.5 L294.2 454.9 L287.6 454.9 L282.7 458.2 L280.2 464.8 L276.1 469.8 L269.5 469.0 L261.3 464.8 L255.5 458.2 L244.8 454.0 L235.0 450.7 L229.2 446.6 L228.4 441.6 L232.5 434.9 L231.7 431.6 L232.2 428.1 L228.1 423.9 L219.9 422.9 L209.7 423.4 L197.5 424.6 L185.2 425.7 L173.0 429.2 L164.8 435.0 L157.7 436.2 L149.5 435.0 L144.4 431.6 L143.4 430.4Z M123.0 379.2 L123.0 403.6 L126.0 409.4 L125.0 416.4 L129.1 422.2 L136.2 421.1 L140.3 426.9 L143.4 429.5 L148.5 425.7 L156.6 422.2 L164.8 418.8 L169.9 414.1 L173.0 408.3 L177.1 403.6 L177.1 379.2Z M187.3 403.6 L191.3 403.6 L191.7 405.7 L188.3 405.7Z M218.9 397.8 L225.0 397.8 L225.0 407.1 L222.0 408.7 L219.3 407.1Z M241.3 416.9 L248.5 416.9 L254.6 416.0 L255.0 417.8 L252.6 421.1 L248.5 420.6 L242.4 419.2Z M256.7 393.1 L263.8 393.1 L265.2 402.5 L263.8 407.1 L261.8 410.6 L260.3 416.0 L257.9 415.5 L259.1 410.6 L259.7 404.8Z M287.5 393.1 L315.0 393.1 L314.0 402.5 L311.9 409.4 L308.9 407.1 L306.8 412.9 L303.8 410.6 L302.8 416.4 L298.7 417.6 L295.6 412.9 L293.6 407.1 L289.5 402.5Z M300.8 436.3 L307.3 436.9 L313.9 437.9 L313.6 439.3 L307.3 438.6 L301.1 437.6Z M347.2 439.9 L350.9 438.3 L355.4 436.6 L354.2 438.9 L350.9 440.3 L348.1 440.9Z M436.6 716.4 L440.6 723.0 L441.8 732.4 L442.6 735.0 L439.2 736.3 L438.6 745.6 L435.3 758.9 L431.3 772.2 L427.3 785.4 L423.5 792.0 L415.5 794.0 L409.0 788.1 L407.0 778.8 L405.6 772.2 L409.0 762.9 L411.0 754.9 L409.0 748.3 L411.6 740.3 L419.5 736.3 L427.3 731.0 L430.0 724.4 L434.0 719.0Z" fill="#f5f6f1" stroke="#e3e5e5" stroke-width="1" stroke-linejoin="round"/>
<path d="M344.0 648.2 L349.2 647.2 L353.3 650.3 L354.4 655.6 L352.3 660.9 L347.1 661.9 L343.5 658.8 L342.3 653.5Z M329.4 666.7 L331.4 670.3 L331.0 677.7 L333.5 685.0 L337.7 692.4 L339.0 696.2 L336.9 696.2 L333.5 690.3 L329.8 681.9 L328.5 673.5Z M355.0 701.8 L357.1 702.9 L359.0 711.3 L360.6 721.8 L361.9 727.1 L359.8 727.1 L357.7 719.7 L356.0 711.3Z M435.5 373.1 L435.5 408.3 L437.2 415.2 L441.5 422.1 L448.4 426.5 L456.1 425.5 L461.2 422.1 L462.5 412.3 L462.1 373.1Z M336.1 640.8 L340.1 635.7 L341.8 636.7 L337.7 642.1Z M365.9 622.2 L367.5 622.7 L369.9 633.0 L368.2 634.0 L366.3 628.1Z M330.2 649.1 L332.1 649.1 L332.1 652.4 L330.2 652.4Z M328.0 658.3 L329.5 658.3 L329.7 661.8 L328.0 661.8Z M326.6 697.6 L329.5 696.8 L330.4 700.3 L327.6 702.0Z M343.6 690.9 L346.5 692.3 L346.0 693.9 L343.4 692.5Z M319.5 749.4 L323.6 744.8 L328.5 742.1 L329.0 743.7 L324.3 746.7 L320.5 751.0Z M372.2 578.5 L374.8 578.5 L375.0 582.3 L372.4 582.3Z" fill="#c9cdd0"/>
<path d="M165.3 436.2 L166.5 455.1 L157.1 457.3 L147.6 463.2 L127.5 476.7 L127.5 488.8 M127.5 488.8 L109.8 490.1 L109.8 500.9 L102.7 502.3 L102.7 518.4 L85.0 519.2 M127.5 476.7 L194.9 538.6 L206.7 533.3 L235.0 514.4 M212.6 440.3 L218.5 452.4 L223.7 453.0 L225.6 484.8 L235.0 514.4 L253.9 514.4 M127.5 488.8 L138.2 503.6 L142.9 557.5 L107.4 557.5 L101.5 562.9 L86.2 562.9 M194.9 538.6 L195.3 554.8 L178.3 562.9 L161.8 565.6 L150.0 576.4 L142.9 557.5 M253.9 514.4 L259.1 549.4 L249.2 575.0 M192.5 571.0 L211.4 568.3 L230.3 571.0 L249.2 575.0 M161.8 565.6 L159.4 587.2 L160.6 608.7 M174.8 587.2 L176.0 611.4 M183.1 587.2 L184.2 608.7 M192.5 571.0 L190.1 587.2 L191.3 608.7 M86.2 562.9 L105.1 571.0 L107.4 581.8 L93.3 583.1 M107.4 581.8 L126.3 587.2 L138.2 597.9 L142.9 614.1 M307.5 459.1 L307.9 533.3 M307.9 521.1 L369.4 521.1 M307.9 533.3 L302.5 533.8 L302.5 544.0 L254.8 514.4 L246.5 517.1 L232.3 507.7 M302.5 544.0 L300.8 554.8 L294.9 571.0 L303.2 587.2 L310.3 595.2 M374.1 544.0 L370.6 557.5 L364.6 576.4 L359.9 597.9 L350.5 608.7 M310.3 595.2 L326.8 587.2 L345.7 587.2 L359.9 597.9 M254.8 514.4 L258.3 549.4 L251.2 573.7 L254.8 592.5 M404.8 583.1 L411.9 597.9 L433.2 608.7 L419.0 624.9 M404.8 549.4 L421.4 544.0 L437.9 538.6 L457.0 530.6 M359.9 471.3 L378.8 457.8 L397.7 452.4 L421.4 471.3 L430.8 474.0 M374.1 544.0 L383.5 554.8 L397.7 571.0 L403.6 579.1 M238.0 746.0 L261.6 746.8 L287.6 752.7 L311.3 748.7 M287.1 752.7 L286.4 774.3 L281.7 775.6 L281.7 812.0 L264.0 814.7 L258.1 809.3 M281.7 793.1 L294.7 798.5 L304.2 790.4 L316.0 785.0 L330.2 777.0 L339.6 775.6 M311.3 748.7 L320.7 760.8 L330.2 777.0 M339.6 736.5 L351.4 750.0 L349.1 766.2 L339.6 775.6 L344.3 795.8 L349.1 797.2 M311.3 748.7 L320.7 747.3 L327.8 741.9 L339.6 736.5 M319.5 822.8 L325.0 816.8 L330.2 822.2 L325.4 828.7 L319.5 822.8 M291.2 712.3 L301.8 712.3 L301.8 728.4 L291.2 729.8 L291.2 744.6" fill="none" stroke="#ebebe7" stroke-width="0.8"/>
<circle cx="173.1" cy="616.1" r="7.8" fill="#13773a" stroke="#0f6a32" stroke-width="0.6"/>
<circle cx="203.1" cy="612.9" r="7.6" fill="#13773a" stroke="#0f6a32" stroke-width="0.6"/>
<circle cx="194.3" cy="604.7" r="4.5" fill="#13773a" stroke="#0f6a32" stroke-width="0.6"/>
<circle cx="228" cy="426.9" r="7.6" fill="#13773a" stroke="#0f6a32" stroke-width="0.6"/>
<circle cx="427.7" cy="754.0" r="7.8" fill="#13773a" stroke="#0f6a32" stroke-width="0.6"/>
<circle cx="324.2" cy="798.1" r="6.5" fill="#13773a" stroke="#0f6a32" stroke-width="0.6"/>
<circle cx="317.7" cy="839.8" r="7.8" fill="#13773a" stroke="#0f6a32" stroke-width="0.6"/>
<circle cx="169.4" cy="594.9" r="6.3" fill="#8fd38a" stroke="#68a868" stroke-width="0.6"/>
<circle cx="198.3" cy="600.5" r="6.3" fill="#8fd38a" stroke="#68a868" stroke-width="0.6"/>
<circle cx="210.7" cy="603.4" r="6.1" fill="#8fd38a" stroke="#68a868" stroke-width="0.6"/>
<circle cx="201.8" cy="607.9" r="6.1" fill="#8fd38a" stroke="#68a868" stroke-width="0.6"/>
<circle cx="211.7" cy="620.5" r="6.3" fill="#8fd38a" stroke="#68a868" stroke-width="0.6"/>
<circle cx="228" cy="426.9" r="6.2" fill="#8fd38a" stroke="#68a868" stroke-width="0.6"/>
<circle cx="370.3" cy="665.9" r="6.3" fill="#8fd38a" stroke="#68a868" stroke-width="0.6"/>
<circle cx="375.8" cy="685.2" r="6.3" fill="#8fd38a" stroke="#68a868" stroke-width="0.6"/>
<circle cx="340.4" cy="747.7" r="6.3" fill="#8fd38a" stroke="#68a868" stroke-width="0.6"/>
<circle cx="325.7" cy="795.0" r="5.9" fill="#8fd38a" stroke="#68a868" stroke-width="0.6"/>
<circle cx="324.2" cy="798.1" r="5.9" fill="#8fd38a" stroke="#68a868" stroke-width="0.6"/>
<circle cx="273.1" cy="847.6" r="6.3" fill="#8fd38a" stroke="#68a868" stroke-width="0.6"/>
<circle cx="186.1" cy="612.3" r="4.5" fill="#fba64f" stroke="#d98a3c" stroke-width="0.6"/>
<circle cx="191.5" cy="611.4" r="4.5" fill="#fba64f" stroke="#d98a3c" stroke-width="0.6"/>
<circle cx="348" cy="560.1" r="3.4" fill="#df4658" stroke="#c23a4a" stroke-width="0.6"/>
</g>
<g clip-path="url(#cpd)">
<rect x="496.5" y="419.2" width="369.0" height="441.2" fill="#c9cdd0"/>
<path d="M557.0 440.7 L549.5 450.0 L543.0 455.2 L539.8 463.5 L536.6 470.8 L528.0 479.1 L520.5 487.4 L514.1 496.7 L509.8 505.0 L506.6 513.3 L501.2 521.6 L499.1 526.8 L503.4 532.0 L504.4 540.3 L503.4 548.6 L500.1 556.9 L498.0 565.2 L501.2 571.5 L502.3 577.7 L505.5 583.9 L509.8 590.1 L515.2 596.4 L519.4 601.6 L524.8 606.7 L531.2 611.9 L538.7 617.1 L547.3 620.2 L553.7 620.2 L562.3 617.1 L573.0 616.1 L581.6 617.1 L590.2 616.1 L592.4 616.6 L605.3 617.3 L618.2 620.4 L626.7 625.6 L635.3 627.6 L643.9 629.7 L647.1 636.0 L645.0 644.3 L642.8 652.6 L648.2 658.8 L654.6 667.1 L658.9 675.4 L663.2 683.7 L666.4 692.0 L668.5 702.4 L667.5 710.7 L663.2 721.1 L660.0 729.4 L657.8 739.7 L658.9 750.1 L663.2 760.5 L669.6 773.2 L669.7 771.0 L672.9 783.5 L676.1 795.9 L681.5 808.4 L686.8 818.8 L690.0 829.1 L692.2 837.4 L694.3 845.7 L699.7 849.9 L702.5 848.8 L714.4 844.7 L726.2 844.7 L734.7 843.0 L746.6 839.8 L755.0 831.6 L761.8 823.4 L767.7 815.2 L771.9 803.7 L773.6 793.9 L778.7 789.0 L785.5 784.0 L788.0 777.5 L786.3 769.3 L783.8 761.1 L786.3 756.2 L793.9 749.6 L804.1 741.4 L812.6 734.9 L815.9 731.6 L815.5 721.0 L816.6 712.7 L813.4 704.4 L811.2 696.1 L810.2 687.8 L808.0 679.5 L810.2 673.3 L815.5 665.0 L822.0 656.7 L832.7 648.4 L843.4 638.0 L854.1 625.6 L862.7 613.1 L869.1 600.6 L873.4 588.2 L874.5 579.9 L869.8 580.9 L861.7 583.5 L850.9 586.1 L841.4 587.4 L834.6 586.1 L828.5 581.5 L831.2 578.9 L829.9 575.6 L825.1 570.4 L819.7 565.1 L813.0 559.9 L808.9 553.3 L806.2 546.8 L801.5 541.5 L798.1 535.0 L797.4 527.1 L794.0 520.6 L789.9 515.3 L789.3 510.1 L786.6 502.2 L782.5 494.3 L779.1 486.5 L775.7 481.2 L771.7 474.0 L771.3 472.7 L773.0 473.6 L777.1 480.6 L780.5 484.9 L782.1 484.5 L784.8 475.3 L785.9 475.7 L783.4 485.4 L789.3 491.7 L794.0 498.3 L798.1 506.1 L803.5 510.1 L807.5 516.6 L808.9 524.5 L813.0 531.0 L818.4 537.6 L822.4 545.5 L826.5 552.0 L828.5 558.6 L829.9 565.1 L830.6 570.4 L831.9 575.0 L834.6 575.6 L845.5 571.7 L856.3 567.8 L868.5 562.5 L879.6 557.0 L883.7 552.8 L891.8 550.4 L899.9 545.4 L906.0 540.5 L910.1 536.6 L912.1 530.7 L916.2 526.8 L920.2 521.8 L921.8 518.9 L918.2 515.9 L912.1 511.0 L908.0 510.0 L905.0 506.1 L902.8 500.2 L901.4 495.3 L898.9 499.2 L895.9 503.2 L891.8 507.1 L885.7 508.6 L879.6 510.0 L877.6 508.1 L875.6 504.1 L876.1 500.2 L874.5 497.3 L873.0 500.2 L872.0 503.2 L869.5 499.2 L867.4 493.3 L863.4 487.4 L859.3 481.5 L856.8 475.6 L862.4 470.2 L867.4 472.2 L871.5 478.6 L874.5 484.5 L880.6 488.4 L885.7 492.3 L891.8 494.8 L897.9 493.3 L902.0 490.4 L905.0 490.9 L907.5 495.3 L908.0 499.2 L916.2 500.2 L924.3 501.2 L946.6 502.7 L958.0 495.5 L958.0 357.6 L738.6 357.6 L738.6 403.6 L741.7 413.9 L754.3 422.0 L769.0 420.8 L779.5 425.4 L787.9 426.6 L790.8 432.4 L791.3 440.6 L789.1 450.4 L785.7 458.6 L779.8 463.5 L773.0 462.7 L764.6 460.2 L754.4 463.5 L747.6 462.7 L739.2 461.9 L730.7 461.0 L723.9 457.0 L717.2 455.3 L710.4 455.3 L705.3 458.6 L702.8 465.1 L698.6 470.1 L691.8 469.2 L683.3 465.1 L677.4 458.6 L666.4 454.5 L656.2 451.2 L650.3 447.1 L649.5 442.2 L653.7 435.6 L652.9 432.4 L653.4 428.8 L649.2 424.7 L640.8 423.8 L630.3 424.3 L617.7 425.4 L605.1 426.6 L592.5 430.0 L584.1 435.7 L576.7 436.9 L568.3 435.7 L563.1 432.3 L562.0 431.1Z M541.0 380.6 L541.0 404.7 L544.2 410.5 L543.1 417.4 L547.3 423.1 L554.7 422.0 L558.9 427.7 L562.0 430.2 L567.3 426.6 L575.7 423.1 L584.1 419.7 L589.3 415.1 L592.5 409.3 L596.7 404.7 L596.7 380.6Z M607.2 404.7 L611.4 404.7 L611.8 406.8 L608.2 406.8Z M639.7 399.0 L646.0 399.0 L646.0 408.2 L642.9 409.8 L640.1 408.2Z M662.8 417.8 L670.2 417.8 L676.5 416.9 L676.9 418.7 L674.4 422.0 L670.2 421.5 L663.9 420.1Z M678.6 394.4 L685.9 394.4 L687.4 403.6 L685.9 408.2 L683.8 411.6 L682.3 416.9 L679.8 416.4 L681.1 411.6 L681.7 405.9Z M710.2 394.4 L738.6 394.4 L737.5 403.6 L735.4 410.5 L732.3 408.2 L730.2 413.9 L727.0 411.6 L726.0 417.4 L721.8 418.5 L718.6 413.9 L716.5 408.2 L712.3 403.6Z M723.9 437.0 L730.7 437.6 L737.5 438.6 L737.1 439.9 L730.7 439.3 L724.3 438.3Z M771.7 440.6 L775.6 438.9 L780.1 437.3 L778.9 439.6 L775.6 440.9 L772.7 441.5Z M863.7 713.6 L867.8 720.2 L869.1 729.4 L869.8 732.0 L866.4 733.3 L865.7 742.5 L862.3 755.6 L858.2 768.7 L854.1 781.8 L850.2 788.3 L842.0 790.3 L835.3 784.5 L833.2 775.2 L831.8 768.7 L835.3 759.5 L837.3 751.7 L835.3 745.1 L837.9 737.2 L846.1 733.3 L854.1 728.1 L856.9 721.5 L861.0 716.2Z" fill="#f5f6f1" stroke="#e3e5e5" stroke-width="1" stroke-linejoin="round"/>
<path d="M768.4 646.3 L773.7 645.3 L778.0 648.4 L779.1 653.6 L776.9 658.8 L771.6 659.8 L767.9 656.7 L766.7 651.5Z M753.4 664.6 L755.5 668.1 L755.1 675.4 L757.7 682.6 L761.9 689.9 L763.2 693.6 L761.1 693.6 L757.7 687.8 L753.8 679.5 L752.5 671.2Z M779.7 699.2 L781.9 700.3 L783.8 708.6 L785.5 719.0 L786.8 724.2 L784.7 724.2 L782.5 716.9 L780.8 708.6Z M862.5 374.5 L862.5 409.4 L864.3 416.1 L868.7 422.9 L875.8 427.3 L883.7 426.3 L889.0 422.9 L890.4 413.2 L889.9 374.5Z M760.3 638.9 L764.4 633.9 L766.1 634.9 L762.0 640.3Z M790.9 620.6 L792.6 621.1 L795.0 631.2 L793.3 632.3 L791.4 626.4Z M754.2 647.2 L756.1 647.2 L756.1 650.4 L754.2 650.4Z M752.0 656.2 L753.5 656.2 L753.7 659.7 L752.0 659.7Z M750.6 695.1 L753.5 694.3 L754.4 697.8 L751.5 699.4Z M768.1 688.4 L771.0 689.8 L770.5 691.4 L767.8 690.0Z M743.3 746.2 L747.4 741.7 L752.5 739.0 L753.0 740.6 L748.1 743.5 L744.2 747.8Z M797.4 577.5 L800.1 577.5 L800.4 581.2 L797.7 581.2Z" fill="#c9cdd0"/>
<path d="M584.6 436.9 L585.8 455.6 L576.1 457.7 L566.4 463.5 L545.7 476.9 L545.7 488.8 M545.7 488.8 L527.5 490.2 L527.5 500.8 L520.2 502.1 L520.2 518.1 L502.0 518.9 M545.7 476.9 L615.0 538.1 L627.2 532.7 L656.3 514.1 M633.2 440.9 L639.3 452.9 L644.7 453.4 L646.6 484.8 L656.3 514.1 L675.8 514.1 M545.7 488.8 L556.7 503.5 L561.5 556.7 L525.1 556.7 L519.0 562.0 L503.2 562.0 M615.0 538.1 L615.5 554.0 L598.0 562.0 L581.0 564.7 L568.8 575.3 L561.5 556.7 M675.8 514.1 L681.1 548.7 L670.9 574.0 M612.6 570.0 L632.0 567.3 L651.5 570.0 L670.9 574.0 M581.0 564.7 L578.5 586.0 L579.8 607.3 M594.3 586.0 L595.6 609.9 M602.8 586.0 L604.1 607.3 M612.6 570.0 L610.1 586.0 L611.4 607.3 M503.2 562.0 L522.6 570.0 L525.1 580.7 L510.5 582.0 M525.1 580.7 L544.5 586.0 L556.7 596.6 L561.5 612.6 M730.8 459.6 L731.3 532.7 M731.3 520.8 L794.5 520.8 M731.3 532.7 L725.7 533.3 L725.7 543.4 L676.6 514.1 L668.1 516.8 L653.5 507.5 M725.7 543.4 L724.0 554.0 L717.9 570.0 L726.5 586.0 L733.7 594.0 M799.4 543.4 L795.7 556.7 L789.7 575.3 L784.8 596.6 L775.1 607.3 M733.7 594.0 L750.8 586.0 L770.2 586.0 L784.8 596.6 M676.6 514.1 L680.3 548.7 L673.0 572.7 L676.6 591.3 M831.0 582.0 L838.3 596.6 L860.2 607.3 L845.6 623.2 M831.0 548.7 L848.0 543.4 L865.0 538.1 L884.7 530.1 M784.8 471.5 L804.2 458.2 L823.7 452.9 L848.0 471.5 L857.7 474.2 M799.4 543.4 L809.1 554.0 L823.7 570.0 L829.8 578.0 M659.4 742.8 L683.7 743.6 L710.4 749.5 L734.7 745.5 M709.9 749.5 L709.2 770.8 L704.3 772.1 L704.3 808.0 L686.1 810.7 L680.0 805.4 M704.3 789.4 L717.7 794.7 L727.4 786.7 L739.6 781.4 L754.2 773.4 L763.9 772.1 M734.7 745.5 L744.5 757.5 L754.2 773.4 M763.9 733.5 L776.1 746.8 L773.6 762.8 L763.9 772.1 L768.8 792.1 L773.6 793.4 M734.7 745.5 L744.5 744.2 L751.7 738.8 L763.9 733.5 M743.2 818.7 L748.8 812.8 L754.2 818.1 L749.3 824.5 L743.2 818.7 M714.1 709.6 L725.0 709.6 L725.0 725.5 L714.1 726.9 L714.1 741.5" fill="none" stroke="#ebebe7" stroke-width="0.8"/>
<circle cx="614.5" cy="604.2" r="7.6" fill="#13773a" stroke="#0f6a32" stroke-width="0.6"/>
<circle cx="756.3" cy="463.2" r="6.9" fill="#13773a" stroke="#0f6a32" stroke-width="0.6"/>
<circle cx="746.7" cy="794.7" r="8.2" fill="#13773a" stroke="#0f6a32" stroke-width="0.6"/>
<circle cx="744.2" cy="800.4" r="7.8" fill="#13773a" stroke="#0f6a32" stroke-width="0.6"/>
<circle cx="615.9" cy="576.8" r="6.9" fill="#8fd38a" stroke="#68a868" stroke-width="0.6"/>
<circle cx="581.8" cy="619.3" r="6.9" fill="#8fd38a" stroke="#68a868" stroke-width="0.6"/>
<circle cx="616.5" cy="598.5" r="6.3" fill="#8fd38a" stroke="#68a868" stroke-width="0.6"/>
<circle cx="638.2" cy="599.1" r="6.6" fill="#8fd38a" stroke="#68a868" stroke-width="0.6"/>
<circle cx="609.8" cy="611.1" r="6.6" fill="#8fd38a" stroke="#68a868" stroke-width="0.6"/>
<circle cx="621.8" cy="616.8" r="6.6" fill="#8fd38a" stroke="#68a868" stroke-width="0.6"/>
<circle cx="633.2" cy="608.6" r="6.3" fill="#8fd38a" stroke="#68a868" stroke-width="0.6"/>
<circle cx="631.9" cy="618.7" r="6.9" fill="#8fd38a" stroke="#68a868" stroke-width="0.6"/>
<circle cx="646.9" cy="425.3" r="6.7" fill="#8fd38a" stroke="#68a868" stroke-width="0.6"/>
<circle cx="649.0" cy="426.4" r="6.7" fill="#8fd38a" stroke="#68a868" stroke-width="0.6"/>
<circle cx="756.3" cy="463.2" r="6.1" fill="#8fd38a" stroke="#68a868" stroke-width="0.6"/>
<circle cx="763.6" cy="470.5" r="6.5" fill="#8fd38a" stroke="#68a868" stroke-width="0.6"/>
<circle cx="770.7" cy="557.9" r="6.6" fill="#8fd38a" stroke="#68a868" stroke-width="0.6"/>
<circle cx="822.5" cy="593.3" r="6.6" fill="#8fd38a" stroke="#68a868" stroke-width="0.6"/>
<circle cx="792.9" cy="664.9" r="6.6" fill="#8fd38a" stroke="#68a868" stroke-width="0.6"/>
<circle cx="787.4" cy="680.5" r="6.6" fill="#8fd38a" stroke="#68a868" stroke-width="0.6"/>
<circle cx="798.7" cy="684.4" r="6.6" fill="#8fd38a" stroke="#68a868" stroke-width="0.6"/>
<circle cx="746.4" cy="796.0" r="6.6" fill="#8fd38a" stroke="#68a868" stroke-width="0.6"/>
<circle cx="770.7" cy="795.6" r="6.7" fill="#8fd38a" stroke="#68a868" stroke-width="0.6"/>
<circle cx="737.5" cy="842.0" r="6.6" fill="#8fd38a" stroke="#68a868" stroke-width="0.6"/>
<circle cx="608.6" cy="607.3" r="4.8" fill="#fba64f" stroke="#d98a3c" stroke-width="0.6"/>
<circle cx="612.4" cy="605.4" r="4.8" fill="#fba64f" stroke="#d98a3c" stroke-width="0.6"/>
<circle cx="616.4" cy="604.2" r="5.3" fill="#fba64f" stroke="#d98a3c" stroke-width="0.6"/>
<circle cx="625.0" cy="609.2" r="5.0" fill="#fba64f" stroke="#d98a3c" stroke-width="0.6"/>
<circle cx="632.2" cy="620.9" r="5.0" fill="#fba64f" stroke="#d98a3c" stroke-width="0.6"/>
<circle cx="756.3" cy="463.6" r="4.2" fill="#fba64f" stroke="#d98a3c" stroke-width="0.6"/>
<circle cx="745.7" cy="797.0" r="3.5" fill="#df4658" stroke="#c23a4a" stroke-width="0.6"/>
</g>
<g clip-path="url(#cpe)">
<rect x="79.5" y="860.4" width="417.0" height="411.6" fill="#c9cdd0"/>
<path d="M142.5 882.2 L135.1 890.9 L128.7 895.7 L125.6 903.5 L122.4 910.2 L113.9 918.0 L106.5 925.7 L100.2 934.4 L96.0 942.2 L92.8 949.9 L87.5 957.7 L85.4 962.5 L89.6 967.4 L90.7 975.1 L89.6 982.8 L86.4 990.6 L84.3 998.3 L87.5 1004.1 L88.5 1010.0 L91.7 1015.8 L96.0 1021.6 L101.2 1027.4 L105.5 1032.2 L110.8 1037.1 L117.1 1041.9 L124.5 1046.7 L133.0 1049.6 L139.3 1049.6 L147.8 1046.7 L158.4 1045.8 L166.8 1046.7 L175.3 1045.8 L177.5 1046.3 L190.2 1046.9 L202.9 1049.8 L211.4 1054.6 L219.8 1056.6 L228.3 1058.5 L231.5 1064.3 L229.4 1072.0 L227.2 1079.8 L232.5 1085.6 L238.9 1093.3 L243.1 1101.1 L247.3 1108.8 L250.5 1116.6 L252.6 1126.2 L251.6 1134.0 L247.3 1143.7 L244.2 1151.4 L242.1 1161.1 L243.1 1170.8 L247.3 1180.5 L253.7 1192.3 L253.7 1190.3 L256.9 1201.9 L260.1 1213.5 L265.4 1225.1 L270.7 1234.8 L273.8 1244.5 L276.0 1252.2 L278.1 1260.0 L283.4 1263.8 L286.2 1262.8 L297.9 1259.0 L309.6 1259.0 L317.9 1257.4 L329.6 1254.4 L338.0 1246.7 L344.7 1239.1 L350.5 1231.4 L354.7 1220.7 L356.3 1211.6 L361.4 1207.0 L368.0 1202.4 L370.5 1196.3 L368.9 1188.7 L366.4 1181.0 L368.9 1176.4 L376.4 1170.3 L386.4 1162.7 L394.8 1156.6 L398.1 1153.5 L397.7 1143.7 L398.8 1135.9 L395.6 1128.2 L393.5 1120.4 L392.4 1112.7 L390.3 1104.9 L392.4 1099.1 L397.7 1091.4 L404.1 1083.6 L414.6 1075.9 L425.2 1066.2 L435.8 1054.6 L444.3 1043.0 L450.6 1031.4 L454.8 1019.7 L455.9 1012.0 L451.3 1012.9 L443.3 1015.4 L432.6 1017.8 L423.2 1019.0 L416.5 1017.8 L410.5 1013.5 L413.2 1011.1 L411.9 1008.0 L407.2 1003.1 L401.8 998.2 L395.2 993.4 L391.2 987.2 L388.5 981.1 L383.8 976.2 L380.5 970.1 L379.8 962.8 L376.5 956.7 L372.4 951.8 L371.8 946.9 L369.1 939.6 L365.1 932.2 L361.8 924.9 L358.4 920.0 L354.4 913.3 L354.0 912.0 L355.7 912.9 L359.8 919.4 L363.1 923.4 L364.7 923.0 L367.4 914.5 L368.4 914.9 L366.0 923.9 L371.8 929.8 L376.5 935.9 L380.5 943.2 L385.8 946.9 L389.8 953.0 L391.2 960.3 L395.2 966.5 L400.5 972.6 L404.5 979.9 L408.5 986.0 L410.5 992.1 L411.9 998.2 L412.5 1003.1 L413.9 1007.4 L416.5 1008.0 L427.2 1004.4 L437.9 1000.7 L450.0 995.8 L460.9 990.7 L465.0 986.8 L473.0 984.5 L481.0 979.9 L487.0 975.3 L491.0 971.6 L493.0 966.1 L497.0 962.5 L501.0 957.9 L502.5 955.1 L499.0 952.4 L493.0 947.8 L489.0 946.9 L486.0 943.2 L483.8 937.7 L482.5 933.1 L480.0 936.8 L477.0 940.5 L473.0 944.1 L467.0 945.5 L460.9 946.9 L458.9 945.0 L456.9 941.4 L457.4 937.7 L455.9 935.0 L454.4 937.7 L453.4 940.5 L450.9 936.8 L448.9 931.3 L444.9 925.8 L440.9 920.3 L438.4 914.8 L443.9 909.7 L448.9 911.6 L452.9 917.5 L455.9 923.0 L462.0 926.7 L467.0 930.4 L473.0 932.7 L479.0 931.3 L483.0 928.5 L486.0 929.0 L488.5 933.1 L489.0 936.8 L497.0 937.7 L505.0 938.6 L527.1 940.0 L538.3 933.3 L538.3 804.7 L321.8 804.7 L321.8 847.6 L324.9 857.2 L337.3 864.7 L351.8 863.6 L362.2 867.9 L370.5 869.0 L373.3 874.4 L373.8 882.1 L371.6 891.2 L368.3 898.9 L362.4 903.5 L355.7 902.7 L347.4 900.4 L337.4 903.5 L330.7 902.7 L322.3 901.9 L314.0 901.2 L307.3 897.4 L300.6 895.8 L293.9 895.8 L288.9 898.9 L286.4 905.0 L282.3 909.6 L275.6 908.8 L267.2 905.0 L261.4 898.9 L250.5 895.1 L240.5 892.0 L234.6 888.2 L233.8 883.6 L238.0 877.5 L237.2 874.4 L237.6 871.1 L233.5 867.3 L225.2 866.4 L214.9 866.9 L202.4 867.9 L190.0 869.0 L177.5 872.2 L169.3 877.6 L162.0 878.7 L153.7 877.6 L148.5 874.4 L147.5 873.3Z M126.8 826.1 L126.8 848.6 L129.9 854.0 L128.8 860.4 L133.0 865.8 L140.2 864.7 L144.4 870.1 L147.5 872.4 L152.7 869.0 L161.0 865.8 L169.3 862.6 L174.4 858.3 L177.5 852.9 L181.7 848.6 L181.7 826.1Z M192.1 848.6 L196.2 848.6 L196.6 850.6 L193.1 850.6Z M224.2 843.3 L230.4 843.3 L230.4 851.9 L227.3 853.4 L224.6 851.9Z M247.0 860.9 L254.2 860.9 L260.4 860.0 L260.9 861.7 L258.4 864.7 L254.2 864.3 L248.0 863.0Z M262.5 839.0 L269.8 839.0 L271.2 847.6 L269.8 851.9 L267.7 855.1 L266.2 860.0 L263.8 859.6 L265.0 855.1 L265.6 849.7Z M293.8 839.0 L321.8 839.0 L320.7 847.6 L318.7 854.0 L315.5 851.9 L313.5 857.2 L310.4 855.1 L309.3 860.4 L305.2 861.5 L302.1 857.2 L300.0 851.9 L295.9 847.6Z M307.3 878.7 L314.0 879.3 L320.7 880.2 L320.3 881.5 L314.0 880.8 L307.6 879.9Z M354.4 882.1 L358.3 880.5 L362.8 879.0 L361.6 881.2 L358.3 882.4 L355.4 883.0Z M445.2 1136.7 L449.3 1142.8 L450.5 1151.5 L451.3 1153.9 L447.9 1155.1 L447.2 1163.7 L443.9 1175.9 L439.8 1188.1 L435.8 1200.3 L431.9 1206.4 L423.8 1208.2 L417.2 1202.8 L415.2 1194.2 L413.8 1188.1 L417.2 1179.6 L419.2 1172.2 L417.2 1166.1 L419.8 1158.7 L427.9 1155.1 L435.8 1150.2 L438.6 1144.1 L442.6 1139.2Z" fill="#f5f6f1" stroke="#e3e5e5" stroke-width="1" stroke-linejoin="round"/>
<path d="M351.2 1074.0 L356.4 1073.0 L360.7 1075.9 L361.7 1080.7 L359.6 1085.6 L354.3 1086.5 L350.7 1083.6 L349.5 1078.8Z M336.3 1091.0 L338.5 1094.3 L338.0 1101.1 L340.6 1107.8 L344.8 1114.6 L346.1 1118.1 L344.0 1118.1 L340.6 1112.7 L336.8 1104.9 L335.5 1097.2Z M362.4 1123.3 L364.5 1124.3 L366.4 1132.0 L368.1 1141.7 L369.4 1146.6 L367.2 1146.6 L365.1 1139.8 L363.4 1132.0Z M444.1 820.5 L444.1 853.0 L445.8 859.3 L450.2 865.6 L457.2 869.7 L465.0 868.8 L470.2 865.6 L471.6 856.6 L471.1 820.5Z M343.2 1067.1 L347.2 1062.4 L348.9 1063.4 L344.8 1068.3Z M373.4 1050.0 L375.1 1050.5 L377.5 1059.9 L375.8 1060.9 L373.9 1055.4Z M337.2 1074.8 L339.1 1074.8 L339.1 1077.8 L337.2 1077.8Z M335.0 1083.2 L336.4 1083.2 L336.7 1086.4 L335.0 1086.4Z M333.6 1119.5 L336.4 1118.7 L337.4 1121.9 L334.5 1123.4Z M350.8 1113.3 L353.7 1114.5 L353.2 1116.0 L350.6 1114.7Z M326.4 1167.1 L330.5 1162.9 L335.5 1160.4 L336.0 1161.9 L331.2 1164.6 L327.3 1168.6Z M379.8 1009.7 L382.5 1009.7 L382.7 1013.2 L380.1 1013.2Z" fill="#c9cdd0"/>
<path d="M169.8 878.7 L171.0 896.1 L161.4 898.0 L151.8 903.5 L131.4 915.9 L131.4 927.1 M131.4 927.1 L113.4 928.3 L113.4 938.3 L106.2 939.5 L106.2 954.4 L88.2 955.1 M131.4 915.9 L199.8 973.0 L211.8 968.0 L240.6 950.7 M217.8 882.4 L223.8 893.6 L229.1 894.1 L231.0 923.4 L240.6 950.7 L259.8 950.7 M131.4 927.1 L142.2 940.7 L147.0 990.4 L111.0 990.4 L105.0 995.3 L89.4 995.3 M199.8 973.0 L200.3 987.9 L183.0 995.3 L166.2 997.8 L154.2 1007.8 L147.0 990.4 M259.8 950.7 L265.0 982.9 L255.0 1006.5 M197.4 1002.8 L216.6 1000.3 L235.8 1002.8 L255.0 1006.5 M166.2 997.8 L163.8 1017.7 L165.0 1037.5 M179.4 1017.7 L180.6 1040.0 M187.8 1017.7 L189.0 1037.5 M197.4 1002.8 L195.0 1017.7 L196.2 1037.5 M89.4 995.3 L108.6 1002.8 L111.0 1012.7 L96.6 1014.0 M111.0 1012.7 L130.2 1017.7 L142.2 1027.6 L147.0 1042.5 M314.1 899.8 L314.6 968.0 M314.6 956.9 L377.0 956.9 M314.6 968.0 L309.1 968.5 L309.1 978.0 L260.6 950.7 L252.2 953.2 L237.8 944.5 M309.1 978.0 L307.4 987.9 L301.4 1002.8 L309.8 1017.7 L317.0 1025.1 M381.8 978.0 L378.2 990.4 L372.2 1007.8 L367.4 1027.6 L357.8 1037.5 M317.0 1025.1 L333.8 1017.7 L353.0 1017.7 L367.4 1027.6 M260.6 950.7 L264.2 982.9 L257.0 1005.3 L260.6 1022.7 M413.0 1014.0 L420.2 1027.6 L441.7 1037.5 L427.3 1052.4 M413.0 982.9 L429.7 978.0 L446.5 973.0 L466.0 965.6 M367.4 911.0 L386.6 898.5 L405.8 893.6 L429.7 911.0 L439.3 913.4 M381.8 978.0 L391.4 987.9 L405.8 1002.8 L411.8 1010.2 M243.6 1164.0 L267.6 1164.7 L294.0 1170.2 L318.0 1166.4 M293.5 1170.2 L292.8 1190.0 L288.0 1191.3 L288.0 1224.8 L270.0 1227.3 L264.0 1222.3 M288.0 1207.4 L301.2 1212.4 L310.8 1204.9 L322.8 1200.0 L337.1 1192.5 L346.7 1191.3 M318.0 1166.4 L327.6 1177.6 L337.1 1192.5 M346.7 1155.3 L358.7 1167.7 L356.3 1182.6 L346.7 1191.3 L351.5 1209.9 L356.3 1211.1 M318.0 1166.4 L327.6 1165.2 L334.7 1160.2 L346.7 1155.3 M326.4 1234.7 L331.9 1229.3 L337.1 1234.2 L332.4 1240.2 L326.4 1234.7 M297.6 1132.9 L308.4 1132.9 L308.4 1147.8 L297.6 1149.1 L297.6 1162.7" fill="none" stroke="#ebebe7" stroke-width="0.8"/>
<circle cx="169.0" cy="1008.0" r="7.9" fill="#13773a" stroke="#0f6a32" stroke-width="0.6"/>
<circle cx="207.1" cy="1039.1" r="6.6" fill="#13773a" stroke="#0f6a32" stroke-width="0.6"/>
<circle cx="330.5" cy="1213.4" r="7.6" fill="#13773a" stroke="#0f6a32" stroke-width="0.6"/>
<circle cx="168.4" cy="1037.7" r="6.3" fill="#8fd38a" stroke="#68a868" stroke-width="0.6"/>
<circle cx="203.1" cy="1031.1" r="6.1" fill="#8fd38a" stroke="#68a868" stroke-width="0.6"/>
<circle cx="194.9" cy="1038.7" r="5.7" fill="#8fd38a" stroke="#68a868" stroke-width="0.6"/>
<circle cx="208.8" cy="1044.4" r="6.3" fill="#8fd38a" stroke="#68a868" stroke-width="0.6"/>
<circle cx="220.8" cy="1046.2" r="6.3" fill="#8fd38a" stroke="#68a868" stroke-width="0.6"/>
<circle cx="219.5" cy="1038.7" r="5.7" fill="#8fd38a" stroke="#68a868" stroke-width="0.6"/>
<circle cx="196.2" cy="1033.0" r="4.0" fill="#8fd38a" stroke="#68a868" stroke-width="0.6"/>
<circle cx="196.4" cy="867.5" r="6.4" fill="#8fd38a" stroke="#68a868" stroke-width="0.6"/>
<circle cx="349.3" cy="905.3" r="6.3" fill="#8fd38a" stroke="#68a868" stroke-width="0.6"/>
<circle cx="347.1" cy="909.2" r="6.3" fill="#8fd38a" stroke="#68a868" stroke-width="0.6"/>
<circle cx="381.4" cy="1012.1" r="6.4" fill="#8fd38a" stroke="#68a868" stroke-width="0.6"/>
<circle cx="355" cy="1071" r="6.4" fill="#8fd38a" stroke="#68a868" stroke-width="0.6"/>
<circle cx="330.2" cy="1213.1" r="6.6" fill="#8fd38a" stroke="#68a868" stroke-width="0.6"/>
<circle cx="331.5" cy="1210.3" r="6.6" fill="#8fd38a" stroke="#68a868" stroke-width="0.6"/>
<circle cx="323.9" cy="1252.2" r="6.7" fill="#8fd38a" stroke="#68a868" stroke-width="0.6"/>
<circle cx="195.9" cy="1038.9" r="4.5" fill="#fba64f" stroke="#d98a3c" stroke-width="0.6"/>
<circle cx="205.9" cy="1034.9" r="4.5" fill="#fba64f" stroke="#d98a3c" stroke-width="0.6"/>
<circle cx="214.4" cy="1031.7" r="4.5" fill="#fba64f" stroke="#d98a3c" stroke-width="0.6"/>
</g>
<g clip-path="url(#cpf)">
<rect x="496.5" y="860.4" width="369.0" height="411.6" fill="#c9cdd0"/>
<path d="M554.3 871.7 L547.1 880.6 L541.0 885.5 L537.9 893.5 L534.9 900.4 L526.7 908.3 L519.5 916.2 L513.3 925.1 L509.3 933.0 L506.2 940.9 L501.1 948.8 L499.0 953.8 L503.1 958.7 L504.1 966.6 L503.1 974.5 L500.0 982.5 L498.0 990.4 L501.1 996.3 L502.1 1002.2 L505.2 1008.2 L509.3 1014.1 L514.4 1020.0 L518.5 1025.0 L523.6 1029.9 L529.7 1034.9 L536.9 1039.8 L545.1 1042.8 L551.2 1042.8 L559.4 1039.8 L569.7 1038.8 L577.9 1039.8 L586.0 1038.8 L588.2 1039.4 L600.5 1040.0 L612.8 1042.9 L621.0 1047.9 L629.2 1049.9 L637.4 1051.8 L640.4 1057.8 L638.4 1065.7 L636.3 1073.6 L641.4 1079.5 L647.6 1087.4 L651.7 1095.3 L655.8 1103.3 L658.9 1111.2 L660.9 1121.1 L659.9 1129.0 L655.8 1138.9 L652.7 1146.8 L650.7 1156.7 L651.7 1166.6 L655.8 1176.4 L661.9 1188.5 L662.0 1186.5 L665.0 1198.3 L668.1 1210.2 L673.2 1222.1 L678.4 1231.9 L681.4 1241.8 L683.5 1249.7 L685.5 1257.7 L690.6 1261.6 L693.4 1260.5 L704.7 1256.6 L716.0 1256.6 L724.1 1255.1 L735.4 1252.0 L743.5 1244.2 L750.0 1236.3 L755.6 1228.5 L759.7 1217.6 L761.3 1208.2 L766.1 1203.6 L772.6 1198.9 L775.0 1192.6 L773.4 1184.8 L771.0 1177.0 L773.4 1172.3 L780.7 1166.1 L790.4 1158.3 L798.5 1152.0 L801.7 1148.9 L801.3 1138.8 L802.3 1130.9 L799.3 1123.0 L797.2 1115.1 L796.2 1107.2 L794.1 1099.3 L796.2 1093.3 L801.3 1085.4 L807.5 1077.5 L817.7 1069.6 L827.9 1059.7 L838.2 1047.9 L846.4 1036.0 L852.5 1024.1 L856.6 1012.2 L857.6 1004.3 L853.2 1005.3 L845.4 1007.8 L835.1 1010.3 L826.0 1011.5 L819.6 1010.3 L813.7 1005.9 L816.3 1003.4 L815.0 1000.3 L810.5 995.3 L805.3 990.3 L798.9 985.3 L795.0 979.0 L792.4 972.8 L787.9 967.8 L784.6 961.5 L784.0 954.1 L780.8 947.8 L776.9 942.8 L776.2 937.8 L773.6 930.3 L769.8 922.8 L766.5 915.3 L763.3 910.3 L759.4 903.5 L759.0 902.2 L760.7 903.1 L764.6 909.7 L767.8 913.8 L769.4 913.5 L772.0 904.7 L773.0 905.1 L770.7 914.3 L776.2 920.3 L780.8 926.6 L784.6 934.1 L789.8 937.8 L793.7 944.1 L795.0 951.6 L798.9 957.8 L804.0 964.0 L807.9 971.5 L811.8 977.8 L813.7 984.0 L815.0 990.3 L815.7 995.3 L817.0 999.7 L819.6 1000.3 L829.9 996.5 L840.2 992.8 L851.9 987.8 L862.5 982.6 L866.4 978.5 L874.2 976.2 L881.9 971.5 L887.8 966.8 L891.6 963.1 L893.6 957.5 L897.5 953.7 L901.3 949.0 L902.8 946.2 L899.4 943.4 L893.6 938.7 L889.7 937.8 L886.8 934.0 L884.6 928.4 L883.4 923.7 L881.0 927.5 L878.1 931.2 L874.2 935.0 L868.4 936.4 L862.5 937.8 L860.6 935.9 L858.7 932.2 L859.1 928.4 L857.7 925.6 L856.2 928.4 L855.3 931.2 L852.8 927.5 L850.9 921.9 L847.0 916.2 L843.1 910.6 L840.7 905.0 L846.0 899.8 L850.9 901.7 L854.8 907.8 L857.7 913.4 L863.5 917.2 L868.4 920.9 L874.2 923.3 L880.0 921.9 L883.9 919.1 L886.8 919.5 L889.2 923.7 L889.7 927.5 L897.5 928.4 L905.2 929.4 L926.6 930.8 L937.4 924.0 L937.4 792.5 L727.8 792.5 L727.8 836.3 L730.8 846.2 L742.9 853.9 L756.9 852.8 L766.9 857.1 L775.0 858.2 L777.7 863.8 L778.2 871.6 L776.1 881.0 L772.8 888.8 L767.2 893.4 L760.7 892.7 L752.6 890.3 L742.9 893.4 L736.5 892.7 L728.4 891.9 L720.3 891.1 L713.8 887.2 L707.4 885.6 L700.9 885.6 L696.0 888.8 L693.6 895.0 L689.6 899.7 L683.1 898.9 L675.0 895.0 L669.4 888.8 L658.9 884.9 L649.2 881.7 L643.5 877.8 L642.7 873.1 L646.7 866.9 L645.9 863.8 L646.4 860.4 L642.4 856.5 L634.4 855.6 L624.3 856.0 L612.3 857.1 L600.3 858.2 L588.2 861.5 L580.2 867.0 L573.2 868.1 L565.2 867.0 L560.1 863.7 L559.1 862.6Z M539.1 814.4 L539.1 837.4 L542.1 842.9 L541.1 849.5 L545.1 855.0 L552.1 853.9 L556.1 859.3 L559.1 861.7 L564.2 858.2 L572.2 855.0 L580.2 851.7 L585.2 847.3 L588.2 841.8 L592.2 837.4 L592.2 814.4Z M602.3 837.4 L606.3 837.4 L606.7 839.4 L603.3 839.4Z M633.4 832.0 L639.4 832.0 L639.4 840.7 L636.4 842.2 L633.8 840.7Z M655.4 849.9 L662.4 849.9 L668.5 849.0 L668.9 850.8 L666.5 853.9 L662.4 853.4 L656.4 852.1Z M670.5 827.6 L677.5 827.6 L678.9 836.3 L677.5 840.7 L675.5 844.0 L674.1 849.0 L671.7 848.6 L672.9 844.0 L673.5 838.5Z M700.7 827.6 L727.8 827.6 L726.8 836.3 L724.8 842.9 L721.8 840.7 L719.8 846.2 L716.8 844.0 L715.8 849.5 L711.8 850.6 L708.8 846.2 L706.8 840.7 L702.7 836.3Z M713.8 868.2 L720.3 868.8 L726.8 869.7 L726.4 871.0 L720.3 870.3 L714.1 869.4Z M759.4 871.6 L763.1 870.0 L767.5 868.5 L766.4 870.7 L763.1 871.9 L760.4 872.5Z M847.3 1131.8 L851.2 1138.0 L852.4 1146.8 L853.2 1149.3 L849.9 1150.5 L849.3 1159.3 L846.0 1171.8 L842.1 1184.2 L838.2 1196.7 L834.4 1203.0 L826.6 1204.8 L820.2 1199.3 L818.2 1190.5 L816.9 1184.2 L820.2 1175.5 L822.1 1168.0 L820.2 1161.8 L822.7 1154.2 L830.5 1150.5 L838.2 1145.5 L840.9 1139.3 L844.8 1134.2Z" fill="#f5f6f1" stroke="#e3e5e5" stroke-width="1" stroke-linejoin="round"/>
<path d="M756.3 1067.6 L761.4 1066.6 L765.5 1069.6 L766.5 1074.6 L764.5 1079.5 L759.3 1080.5 L755.9 1077.5 L754.6 1072.6Z M741.9 1085.0 L744.0 1088.4 L743.6 1095.3 L746.0 1102.2 L750.1 1109.2 L751.3 1112.7 L749.3 1112.7 L746.0 1107.2 L742.3 1099.3 L741.1 1091.4Z M767.1 1118.1 L769.2 1119.1 L771.0 1127.0 L772.6 1136.9 L773.9 1141.8 L771.8 1141.8 L769.8 1134.9 L768.1 1127.0Z M846.2 808.7 L846.2 841.9 L847.9 848.3 L852.1 854.8 L858.9 858.9 L866.5 858.0 L871.5 854.8 L872.8 845.6 L872.4 808.7Z M748.5 1060.6 L752.5 1055.8 L754.1 1056.8 L750.2 1061.9Z M777.8 1043.1 L779.4 1043.6 L781.7 1053.3 L780.1 1054.3 L778.3 1048.7Z M742.7 1068.5 L744.6 1068.5 L744.6 1071.5 L742.7 1071.5Z M740.6 1077.1 L742.0 1077.1 L742.3 1080.4 L740.6 1080.4Z M739.2 1114.1 L742.0 1113.4 L743.0 1116.7 L740.2 1118.2Z M756.0 1107.8 L758.7 1109.1 L758.3 1110.6 L755.7 1109.3Z M732.3 1162.8 L736.2 1158.5 L741.1 1156.0 L741.6 1157.5 L736.9 1160.3 L733.2 1164.3Z M784.0 1002.0 L786.6 1002.0 L786.8 1005.6 L784.3 1005.6Z" fill="#c9cdd0"/>
<path d="M580.7 868.1 L581.9 885.9 L572.6 887.9 L563.3 893.5 L543.6 906.2 L543.6 917.6 M543.6 917.6 L526.1 918.8 L526.1 929.0 L519.2 930.3 L519.2 945.5 L501.8 946.2 M543.6 906.2 L609.8 964.5 L621.4 959.4 L649.2 941.7 M627.2 871.9 L633.0 883.3 L638.1 883.8 L639.9 913.8 L649.2 941.7 L667.8 941.7 M543.6 917.6 L554.0 931.5 L558.7 982.2 L523.8 982.2 L518.0 987.3 L502.9 987.3 M609.8 964.5 L610.2 979.7 L593.5 987.3 L577.2 989.9 L565.6 1000.0 L558.7 982.2 M667.8 941.7 L672.9 974.6 L663.2 998.7 M607.4 994.9 L626.0 992.4 L644.6 994.9 L663.2 998.7 M577.2 989.9 L574.9 1010.1 L576.1 1030.4 M590.0 1010.1 L591.2 1033.0 M598.1 1010.1 L599.3 1030.4 M607.4 994.9 L605.1 1010.1 L606.3 1030.4 M502.9 987.3 L521.5 994.9 L523.8 1005.1 L509.9 1006.3 M523.8 1005.1 L542.4 1010.1 L554.0 1020.3 L558.7 1035.5 M720.4 889.7 L720.9 959.4 M720.9 948.0 L781.2 948.0 M720.9 959.4 L715.5 959.9 L715.5 969.6 L668.6 941.7 L660.5 944.2 L646.5 935.3 M715.5 969.6 L713.9 979.7 L708.1 994.9 L716.2 1010.1 L723.2 1017.8 M785.9 969.6 L782.4 982.2 L776.6 1000.0 L772.0 1020.3 L762.7 1030.4 M723.2 1017.8 L739.4 1010.1 L758.0 1010.1 L772.0 1020.3 M668.6 941.7 L672.1 974.6 L665.1 997.5 L668.6 1015.2 M816.1 1006.3 L823.0 1020.3 L843.9 1030.4 L830.0 1045.7 M816.1 974.6 L832.3 969.6 L848.6 964.5 L867.4 956.9 M772.0 901.1 L790.5 888.4 L809.1 883.3 L832.3 901.1 L841.6 903.6 M785.9 969.6 L795.2 979.7 L809.1 994.9 L814.9 1002.5 M652.1 1159.6 L675.4 1160.4 L700.9 1165.9 L724.1 1162.1 M700.4 1165.9 L699.7 1186.2 L695.1 1187.5 L695.1 1221.7 L677.7 1224.3 L671.9 1219.2 M695.1 1204.0 L707.9 1209.0 L717.2 1201.4 L728.8 1196.4 L742.7 1188.8 L752.0 1187.5 M724.1 1162.1 L733.4 1173.5 L742.7 1188.8 M752.0 1150.7 L763.6 1163.4 L761.3 1178.6 L752.0 1187.5 L756.6 1206.5 L761.3 1207.8 M724.1 1162.1 L733.4 1160.9 L740.4 1155.8 L752.0 1150.7 M732.3 1231.9 L737.6 1226.3 L742.7 1231.4 L738.1 1237.5 L732.3 1231.9 M704.4 1127.9 L714.8 1127.9 L714.8 1143.1 L704.4 1144.4 L704.4 1158.3" fill="none" stroke="#ebebe7" stroke-width="0.8"/>
<circle cx="629.0" cy="1010.2" r="7.3" fill="#13773a" stroke="#0f6a32" stroke-width="0.6"/>
<circle cx="632.4" cy="1021.5" r="5.8" fill="#13773a" stroke="#0f6a32" stroke-width="0.6"/>
<circle cx="616.0" cy="1039.8" r="5.3" fill="#13773a" stroke="#0f6a32" stroke-width="0.6"/>
<circle cx="737.6" cy="1209.0" r="7.6" fill="#13773a" stroke="#0f6a32" stroke-width="0.6"/>
<circle cx="752.5" cy="1233.0" r="7.3" fill="#13773a" stroke="#0f6a32" stroke-width="0.6"/>
<circle cx="730.4" cy="1251.3" r="7.6" fill="#13773a" stroke="#0f6a32" stroke-width="0.6"/>
<circle cx="640.6" cy="1015.2" r="6.6" fill="#8fd38a" stroke="#68a868" stroke-width="0.6"/>
<circle cx="622.9" cy="1018.4" r="5.7" fill="#8fd38a" stroke="#68a868" stroke-width="0.6"/>
<circle cx="627.3" cy="1021.5" r="6.3" fill="#8fd38a" stroke="#68a868" stroke-width="0.6"/>
<circle cx="598.9" cy="1028.5" r="6.3" fill="#8fd38a" stroke="#68a868" stroke-width="0.6"/>
<circle cx="612.2" cy="1023.4" r="5.7" fill="#8fd38a" stroke="#68a868" stroke-width="0.6"/>
<circle cx="605.9" cy="1036.7" r="5.3" fill="#8fd38a" stroke="#68a868" stroke-width="0.6"/>
<circle cx="630.5" cy="1043.0" r="6.1" fill="#8fd38a" stroke="#68a868" stroke-width="0.6"/>
<circle cx="649.4" cy="1049.3" r="6.6" fill="#8fd38a" stroke="#68a868" stroke-width="0.6"/>
<circle cx="669.3" cy="1091.6" r="6.6" fill="#8fd38a" stroke="#68a868" stroke-width="0.6"/>
<circle cx="616.6" cy="1038.6" r="4.4" fill="#8fd38a" stroke="#68a868" stroke-width="0.6"/>
<circle cx="620.1" cy="1030.1" r="5.8" fill="#8fd38a" stroke="#68a868" stroke-width="0.6"/>
<circle cx="641.5" cy="880.2" r="6.5" fill="#8fd38a" stroke="#68a868" stroke-width="0.6"/>
<circle cx="759.9" cy="986.7" r="6.6" fill="#8fd38a" stroke="#68a868" stroke-width="0.6"/>
<circle cx="796.5" cy="998.0" r="6.4" fill="#8fd38a" stroke="#68a868" stroke-width="0.6"/>
<circle cx="778.5" cy="1021.2" r="6.4" fill="#8fd38a" stroke="#68a868" stroke-width="0.6"/>
<circle cx="778.9" cy="1070.3" r="6.2" fill="#8fd38a" stroke="#68a868" stroke-width="0.6"/>
<circle cx="747.4" cy="1079.0" r="6.4" fill="#8fd38a" stroke="#68a868" stroke-width="0.6"/>
<circle cx="781.7" cy="1086.7" r="6.2" fill="#8fd38a" stroke="#68a868" stroke-width="0.6"/>
<circle cx="787.3" cy="1105.0" r="6.4" fill="#8fd38a" stroke="#68a868" stroke-width="0.6"/>
<circle cx="725.3" cy="1202.1" r="6.1" fill="#8fd38a" stroke="#68a868" stroke-width="0.6"/>
<circle cx="723.8" cy="1209.3" r="6.3" fill="#8fd38a" stroke="#68a868" stroke-width="0.6"/>
<circle cx="737.6" cy="1209.0" r="6.1" fill="#8fd38a" stroke="#68a868" stroke-width="0.6"/>
<circle cx="751.8" cy="1207.4" r="6.3" fill="#8fd38a" stroke="#68a868" stroke-width="0.6"/>
<circle cx="748.7" cy="1231.7" r="6.1" fill="#8fd38a" stroke="#68a868" stroke-width="0.6"/>
<circle cx="612.6" cy="1024.7" r="4.8" fill="#fba64f" stroke="#d98a3c" stroke-width="0.6"/>
<circle cx="606.5" cy="1031.6" r="4.5" fill="#fba64f" stroke="#d98a3c" stroke-width="0.6"/>
<circle cx="609.7" cy="1031.0" r="4.5" fill="#fba64f" stroke="#d98a3c" stroke-width="0.6"/>
<circle cx="616.6" cy="1030.4" r="3.8" fill="#fba64f" stroke="#d98a3c" stroke-width="0.6"/>
<circle cx="633.4" cy="1029.1" r="4.8" fill="#fba64f" stroke="#d98a3c" stroke-width="0.6"/>
<circle cx="625.4" cy="1040.5" r="4.8" fill="#fba64f" stroke="#d98a3c" stroke-width="0.6"/>
<circle cx="746.5" cy="897.0" r="4.9" fill="#fba64f" stroke="#d98a3c" stroke-width="0.6"/>
<circle cx="617.6" cy="1036.1" r="3.0" fill="#df4658" stroke="#c23a4a" stroke-width="0.6"/>
<circle cx="758.4" cy="901.0" r="3.3" fill="#df4658" stroke="#c23a4a" stroke-width="0.6"/>
<circle cx="765.4" cy="993.4" r="3.5" fill="#df4658" stroke="#c23a4a" stroke-width="0.6"/>
<circle cx="772.0" cy="1067.7" r="3.1" fill="#df4658" stroke="#c23a4a" stroke-width="0.6"/>
</g>
<g fill="none" stroke="#111" stroke-width="1.3">
<rect x="12.5" y="11.5" width="919.8" height="1272.4"/>
<rect x="79.5" y="11.5" width="417.0" height="407.7"/>
<rect x="496.5" y="11.5" width="369.0" height="407.7"/>
<rect x="79.5" y="419.2" width="417.0" height="441.2"/>
<rect x="496.5" y="419.2" width="369.0" height="441.2"/>
<rect x="79.5" y="860.4" width="417.0" height="411.6"/>
<rect x="496.5" y="860.4" width="369.0" height="411.6"/>
</g>
<rect x="79.5" y="11.5" width="25.1" height="25.1" fill="#fff" stroke="#111" stroke-width="1.1"/>
<text class="lab" x="92.2" y="29.0" text-anchor="middle" transform="translate(92.2 0) scale(0.85 1) translate(-92.2 0)">a</text>
<text class="ttl" x="432.7" y="40.3" textLength="54.7" lengthAdjust="spacingAndGlyphs">Health</text>
<text class="lg" x="86.4" y="330.5" textLength="39" lengthAdjust="spacingAndGlyphs">Legend</text>
<circle cx="100.9" cy="345.3" r="6.1" fill="#13773a"/>
<text class="lg" x="115" y="350.4" textLength="65.5" lengthAdjust="spacingAndGlyphs">18-29 years</text>
<circle cx="100.9" cy="363.3" r="6.1" fill="#8fd38a"/>
<text class="lg" x="115" y="368.2" textLength="65.5" lengthAdjust="spacingAndGlyphs">30-45 years</text>
<circle cx="100.9" cy="381.2" r="6.1" fill="#fba64f"/>
<text class="lg" x="115" y="386" textLength="65.5" lengthAdjust="spacingAndGlyphs">46-55 years</text>
<circle cx="100.9" cy="399.7" r="6.1" fill="#df4658"/>
<text class="lg" x="115" y="404" textLength="65.5" lengthAdjust="spacingAndGlyphs">56-75 years</text>
<rect x="496.5" y="11.5" width="25.1" height="25.1" fill="#fff" stroke="#111" stroke-width="1.1"/>
<text class="lab" x="509.2" y="29.0" text-anchor="middle" transform="translate(509.2 0) scale(0.85 1) translate(-509.2 0)">b</text>
<text class="ttl" x="648.1" y="41.2" textLength="210.4" lengthAdjust="spacingAndGlyphs">Education and Outreach</text>
<text class="lg" x="503.6" y="331.5" textLength="39" lengthAdjust="spacingAndGlyphs">Legend</text>
<circle cx="517.5" cy="346.2" r="6.1" fill="#13773a"/>
<text class="lg" x="532.2" y="350.4" textLength="65.5" lengthAdjust="spacingAndGlyphs">18-29 years</text>
<circle cx="517.5" cy="364.2" r="6.1" fill="#8fd38a"/>
<text class="lg" x="532.2" y="368.4" textLength="65.5" lengthAdjust="spacingAndGlyphs">30-45 years</text>
<circle cx="517.5" cy="382.3" r="6.1" fill="#fba64f"/>
<text class="lg" x="532.2" y="386.5" textLength="65.5" lengthAdjust="spacingAndGlyphs">46-55 years</text>
<circle cx="517.5" cy="400.5" r="6.1" fill="#df4658"/>
<text class="lg" x="532.2" y="404.5" textLength="65.5" lengthAdjust="spacingAndGlyphs">56-75 years</text>
<rect x="79.5" y="419.2" width="25.1" height="25.1" fill="#fff" stroke="#111" stroke-width="1.1"/>
<text class="lab" x="92.2" y="436.7" text-anchor="middle" transform="translate(92.2 0) scale(0.85 1) translate(-92.2 0)">c</text>
<text class="ttl" x="347.4" y="445.1" textLength="138.5" lengthAdjust="spacingAndGlyphs">Climate Change</text>
<text class="lg" x="84.6" y="773.5" textLength="39" lengthAdjust="spacingAndGlyphs">Legend</text>
<circle cx="99.2" cy="787.8" r="6.1" fill="#13773a"/>
<text class="lg" x="113.5" y="792.4" textLength="65.5" lengthAdjust="spacingAndGlyphs">18-29 years</text>
<circle cx="99.2" cy="805.8" r="6.1" fill="#8fd38a"/>
<text class="lg" x="113.5" y="810.4" textLength="65.5" lengthAdjust="spacingAndGlyphs">30-45 years</text>
<circle cx="99.2" cy="824" r="6.1" fill="#fba64f"/>
<text class="lg" x="113.5" y="828.2" textLength="65.5" lengthAdjust="spacingAndGlyphs">46-55 years</text>
<circle cx="99.2" cy="842.3" r="6.1" fill="#df4658"/>
<text class="lg" x="113.5" y="846.2" textLength="65.5" lengthAdjust="spacingAndGlyphs">56-75 years</text>
<rect x="496.5" y="419.2" width="25.1" height="25.1" fill="#fff" stroke="#111" stroke-width="1.1"/>
<text class="lab" x="509.2" y="436.7" text-anchor="middle" transform="translate(509.2 0) scale(0.85 1) translate(-509.2 0)">d</text>
<text class="ttl" x="805.3" y="445.4" textLength="50.9" lengthAdjust="spacingAndGlyphs">Water</text>
<text class="lg" x="503.6" y="775.6" textLength="39" lengthAdjust="spacingAndGlyphs">Legend</text>
<circle cx="517.5" cy="789.9" r="6.1" fill="#13773a"/>
<text class="lg" x="532.2" y="794.4" textLength="65.5" lengthAdjust="spacingAndGlyphs">18-29 years</text>
<circle cx="517.5" cy="807.9" r="6.1" fill="#8fd38a"/>
<text class="lg" x="532.2" y="812.2" textLength="65.5" lengthAdjust="spacingAndGlyphs">30-45 years</text>
<circle cx="517.5" cy="826" r="6.1" fill="#fba64f"/>
<text class="lg" x="532.2" y="830.2" textLength="65.5" lengthAdjust="spacingAndGlyphs">46-55 years</text>
<circle cx="517.5" cy="844.2" r="6.1" fill="#df4658"/>
<text class="lg" x="532.2" y="848.4" textLength="65.5" lengthAdjust="spacingAndGlyphs">56-75 years</text>
<rect x="79.5" y="860.4" width="25.1" height="25.1" fill="#fff" stroke="#111" stroke-width="1.1"/>
<text class="lab" x="92.2" y="877.9" text-anchor="middle" transform="translate(92.2 0) scale(0.85 1) translate(-92.2 0)">e</text>
<text class="ttl" x="369.8" y="887.8" textLength="115.3" lengthAdjust="spacingAndGlyphs">Clean Energy</text>
<text class="lg" x="86.6" y="1185.9" textLength="39" lengthAdjust="spacingAndGlyphs">Legend</text>
<circle cx="100.9" cy="1200.7" r="6.1" fill="#13773a"/>
<text class="lg" x="115.5" y="1205.2" textLength="65.5" lengthAdjust="spacingAndGlyphs">18-29 years</text>
<circle cx="100.9" cy="1218.7" r="6.1" fill="#8fd38a"/>
<text class="lg" x="115.5" y="1223.2" textLength="65.5" lengthAdjust="spacingAndGlyphs">30-45 years</text>
<circle cx="100.9" cy="1236.7" r="6.1" fill="#fba64f"/>
<text class="lg" x="115.5" y="1241.4" textLength="65.5" lengthAdjust="spacingAndGlyphs">46-55 years</text>
<circle cx="100.9" cy="1254.8" r="6.1" fill="#df4658"/>
<text class="lg" x="115.5" y="1259.4" textLength="65.5" lengthAdjust="spacingAndGlyphs">56-75 years</text>
<rect x="496.5" y="860.4" width="25.1" height="25.1" fill="#fff" stroke="#111" stroke-width="1.1"/>
<text class="lab" x="509.2" y="877.9" text-anchor="middle" transform="translate(509.2 0) scale(0.85 1) translate(-509.2 0)">f</text>
<text class="ttl" x="731.2" y="888.9" textLength="120.3" lengthAdjust="spacingAndGlyphs">Food Security</text>
<text class="lg" x="503.6" y="1184.5" textLength="39" lengthAdjust="spacingAndGlyphs">Legend</text>
<circle cx="517.5" cy="1199" r="6.1" fill="#13773a"/>
<text class="lg" x="532.2" y="1204" textLength="65.5" lengthAdjust="spacingAndGlyphs">18-29 years</text>
<circle cx="517.5" cy="1217" r="6.1" fill="#8fd38a"/>
<text class="lg" x="532.2" y="1221.7" textLength="65.5" lengthAdjust="spacingAndGlyphs">30-45 years</text>
<circle cx="517.5" cy="1235" r="6.1" fill="#fba64f"/>
<text class="lg" x="532.2" y="1239.7" textLength="65.5" lengthAdjust="spacingAndGlyphs">46-55 years</text>
<circle cx="517.5" cy="1253.5" r="6.1" fill="#df4658"/>
<text class="lg" x="532.2" y="1257.7" textLength="65.5" lengthAdjust="spacingAndGlyphs">56-75 years</text>
<text x="13.1" y="1302.3" font-size="13.6px" font-weight="bold" fill="#58585a" textLength="51.3" lengthAdjust="spacingAndGlyphs">Figure 6:</text>
<text x="86.8" y="1302.3" font-size="13.6px" fill="#505052" textLength="393.2" lengthAdjust="spacingAndGlyphs">The most common themes selected by submitters, by age category.</text>
</svg></body></html>
